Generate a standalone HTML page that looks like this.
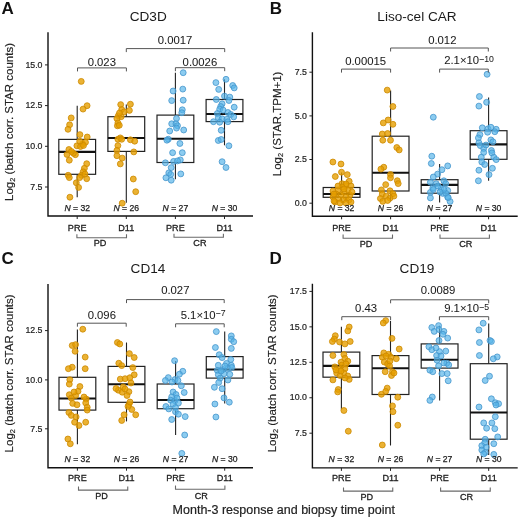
<!DOCTYPE html><html><head><meta charset="utf-8"><style>html,body{margin:0;padding:0;background:#fff;}svg{display:block;will-change:transform;}text{font-family:"Liberation Sans",sans-serif;}</style></head><body>
<svg width="520" height="519" viewBox="0 0 520 519">
<rect width="520" height="519" fill="#fff"/>
<line x1="77.2" y1="105.7" x2="77.2" y2="139.4" stroke="#222" stroke-width="1.1"/><line x1="77.2" y1="174.3" x2="77.2" y2="197.2" stroke="#222" stroke-width="1.1"/><rect x="58.8" y="139.4" width="36.8" height="34.9" fill="none" stroke="#222" stroke-width="1.2"/><line x1="58.8" y1="151.9" x2="95.6" y2="151.9" stroke="#111" stroke-width="2.1"/><line x1="126.3" y1="104.4" x2="126.3" y2="116.7" stroke="#222" stroke-width="1.1"/><line x1="126.3" y1="151.4" x2="126.3" y2="202.8" stroke="#222" stroke-width="1.1"/><rect x="107.9" y="116.7" width="36.8" height="34.7" fill="none" stroke="#222" stroke-width="1.2"/><line x1="107.9" y1="138.0" x2="144.7" y2="138.0" stroke="#111" stroke-width="2.1"/><line x1="175.4" y1="72.7" x2="175.4" y2="115.1" stroke="#222" stroke-width="1.1"/><line x1="175.4" y1="162.5" x2="175.4" y2="179.2" stroke="#222" stroke-width="1.1"/><rect x="157.0" y="115.1" width="36.8" height="47.4" fill="none" stroke="#222" stroke-width="1.2"/><line x1="157.0" y1="138.7" x2="193.8" y2="138.7" stroke="#111" stroke-width="2.1"/><line x1="224.5" y1="79.3" x2="224.5" y2="99.5" stroke="#222" stroke-width="1.1"/><line x1="224.5" y1="121.6" x2="224.5" y2="145.3" stroke="#222" stroke-width="1.1"/><rect x="206.1" y="99.5" width="36.8" height="22.09" fill="none" stroke="#222" stroke-width="1.2"/><line x1="206.1" y1="114.0" x2="242.9" y2="114.0" stroke="#111" stroke-width="2.1"/><circle cx="81.25" cy="81.4" r="2.95" fill="#E69F00" fill-opacity="0.8" stroke="#CC8A00" stroke-opacity="0.9" stroke-width="0.9"/><circle cx="87.1" cy="105.7" r="2.95" fill="#E69F00" fill-opacity="0.8" stroke="#CC8A00" stroke-opacity="0.9" stroke-width="0.9"/><circle cx="83.05" cy="109.1" r="2.95" fill="#E69F00" fill-opacity="0.8" stroke="#CC8A00" stroke-opacity="0.9" stroke-width="0.9"/><circle cx="71.2" cy="117.9" r="2.95" fill="#E69F00" fill-opacity="0.8" stroke="#CC8A00" stroke-opacity="0.9" stroke-width="0.9"/><circle cx="69.6" cy="124.8" r="2.95" fill="#E69F00" fill-opacity="0.8" stroke="#CC8A00" stroke-opacity="0.9" stroke-width="0.9"/><circle cx="68" cy="129.3" r="2.95" fill="#E69F00" fill-opacity="0.8" stroke="#CC8A00" stroke-opacity="0.9" stroke-width="0.9"/><circle cx="79.9" cy="134.6" r="2.95" fill="#E69F00" fill-opacity="0.8" stroke="#CC8A00" stroke-opacity="0.9" stroke-width="0.9"/><circle cx="87.2" cy="137" r="2.95" fill="#E69F00" fill-opacity="0.8" stroke="#CC8A00" stroke-opacity="0.9" stroke-width="0.9"/><circle cx="76.9" cy="145.8" r="2.95" fill="#E69F00" fill-opacity="0.8" stroke="#CC8A00" stroke-opacity="0.9" stroke-width="0.9"/><circle cx="82.6" cy="144" r="2.95" fill="#E69F00" fill-opacity="0.8" stroke="#CC8A00" stroke-opacity="0.9" stroke-width="0.9"/><circle cx="79.7" cy="141.2" r="2.95" fill="#E69F00" fill-opacity="0.8" stroke="#CC8A00" stroke-opacity="0.9" stroke-width="0.9"/><circle cx="85.5" cy="142.3" r="2.95" fill="#E69F00" fill-opacity="0.8" stroke="#CC8A00" stroke-opacity="0.9" stroke-width="0.9"/><circle cx="80.5" cy="146.5" r="2.95" fill="#E69F00" fill-opacity="0.8" stroke="#CC8A00" stroke-opacity="0.9" stroke-width="0.9"/><circle cx="68.9" cy="149.5" r="2.95" fill="#E69F00" fill-opacity="0.8" stroke="#CC8A00" stroke-opacity="0.9" stroke-width="0.9"/><circle cx="67" cy="154.5" r="2.95" fill="#E69F00" fill-opacity="0.8" stroke="#CC8A00" stroke-opacity="0.9" stroke-width="0.9"/><circle cx="69.3" cy="160.2" r="2.95" fill="#E69F00" fill-opacity="0.8" stroke="#CC8A00" stroke-opacity="0.9" stroke-width="0.9"/><circle cx="75.4" cy="154.7" r="2.95" fill="#E69F00" fill-opacity="0.8" stroke="#CC8A00" stroke-opacity="0.9" stroke-width="0.9"/><circle cx="73.4" cy="153.3" r="2.95" fill="#E69F00" fill-opacity="0.8" stroke="#CC8A00" stroke-opacity="0.9" stroke-width="0.9"/><circle cx="86.7" cy="163.7" r="2.95" fill="#E69F00" fill-opacity="0.8" stroke="#CC8A00" stroke-opacity="0.9" stroke-width="0.9"/><circle cx="84.4" cy="168.3" r="2.95" fill="#E69F00" fill-opacity="0.8" stroke="#CC8A00" stroke-opacity="0.9" stroke-width="0.9"/><circle cx="83.2" cy="171.8" r="2.95" fill="#E69F00" fill-opacity="0.8" stroke="#CC8A00" stroke-opacity="0.9" stroke-width="0.9"/><circle cx="81.5" cy="175.3" r="2.95" fill="#E69F00" fill-opacity="0.8" stroke="#CC8A00" stroke-opacity="0.9" stroke-width="0.9"/><circle cx="68.2" cy="175.3" r="2.95" fill="#E69F00" fill-opacity="0.8" stroke="#CC8A00" stroke-opacity="0.9" stroke-width="0.9"/><circle cx="69.3" cy="177.6" r="2.95" fill="#E69F00" fill-opacity="0.8" stroke="#CC8A00" stroke-opacity="0.9" stroke-width="0.9"/><circle cx="79.7" cy="177.6" r="2.95" fill="#E69F00" fill-opacity="0.8" stroke="#CC8A00" stroke-opacity="0.9" stroke-width="0.9"/><circle cx="86.7" cy="178.7" r="2.95" fill="#E69F00" fill-opacity="0.8" stroke="#CC8A00" stroke-opacity="0.9" stroke-width="0.9"/><circle cx="76.3" cy="182.8" r="2.95" fill="#E69F00" fill-opacity="0.8" stroke="#CC8A00" stroke-opacity="0.9" stroke-width="0.9"/><circle cx="78.6" cy="187.4" r="2.95" fill="#E69F00" fill-opacity="0.8" stroke="#CC8A00" stroke-opacity="0.9" stroke-width="0.9"/><circle cx="69.9" cy="197.2" r="2.95" fill="#E69F00" fill-opacity="0.8" stroke="#CC8A00" stroke-opacity="0.9" stroke-width="0.9"/><circle cx="71.5" cy="151.5" r="2.95" fill="#E69F00" fill-opacity="0.8" stroke="#CC8A00" stroke-opacity="0.9" stroke-width="0.9"/><circle cx="83.5" cy="145.5" r="2.95" fill="#E69F00" fill-opacity="0.8" stroke="#CC8A00" stroke-opacity="0.9" stroke-width="0.9"/><circle cx="85.0" cy="174.0" r="2.95" fill="#E69F00" fill-opacity="0.8" stroke="#CC8A00" stroke-opacity="0.9" stroke-width="0.9"/><circle cx="120.7" cy="104.6" r="2.95" fill="#E69F00" fill-opacity="0.8" stroke="#CC8A00" stroke-opacity="0.9" stroke-width="0.9"/><circle cx="130.4" cy="104.2" r="2.95" fill="#E69F00" fill-opacity="0.8" stroke="#CC8A00" stroke-opacity="0.9" stroke-width="0.9"/><circle cx="121.7" cy="109.5" r="2.95" fill="#E69F00" fill-opacity="0.8" stroke="#CC8A00" stroke-opacity="0.9" stroke-width="0.9"/><circle cx="129.4" cy="110.4" r="2.95" fill="#E69F00" fill-opacity="0.8" stroke="#CC8A00" stroke-opacity="0.9" stroke-width="0.9"/><circle cx="124.1" cy="111.9" r="2.95" fill="#E69F00" fill-opacity="0.8" stroke="#CC8A00" stroke-opacity="0.9" stroke-width="0.9"/><circle cx="118.3" cy="115.7" r="2.95" fill="#E69F00" fill-opacity="0.8" stroke="#CC8A00" stroke-opacity="0.9" stroke-width="0.9"/><circle cx="121.2" cy="116.7" r="2.95" fill="#E69F00" fill-opacity="0.8" stroke="#CC8A00" stroke-opacity="0.9" stroke-width="0.9"/><circle cx="116.9" cy="118.6" r="2.95" fill="#E69F00" fill-opacity="0.8" stroke="#CC8A00" stroke-opacity="0.9" stroke-width="0.9"/><circle cx="117.9" cy="122.9" r="2.95" fill="#E69F00" fill-opacity="0.8" stroke="#CC8A00" stroke-opacity="0.9" stroke-width="0.9"/><circle cx="117.4" cy="125.8" r="2.95" fill="#E69F00" fill-opacity="0.8" stroke="#CC8A00" stroke-opacity="0.9" stroke-width="0.9"/><circle cx="119.3" cy="125.3" r="2.95" fill="#E69F00" fill-opacity="0.8" stroke="#CC8A00" stroke-opacity="0.9" stroke-width="0.9"/><circle cx="120.3" cy="137.9" r="2.95" fill="#E69F00" fill-opacity="0.8" stroke="#CC8A00" stroke-opacity="0.9" stroke-width="0.9"/><circle cx="117.9" cy="139.3" r="2.95" fill="#E69F00" fill-opacity="0.8" stroke="#CC8A00" stroke-opacity="0.9" stroke-width="0.9"/><circle cx="130.4" cy="139.8" r="2.95" fill="#E69F00" fill-opacity="0.8" stroke="#CC8A00" stroke-opacity="0.9" stroke-width="0.9"/><circle cx="134.7" cy="141.2" r="2.95" fill="#E69F00" fill-opacity="0.8" stroke="#CC8A00" stroke-opacity="0.9" stroke-width="0.9"/><circle cx="121.7" cy="139.3" r="2.95" fill="#E69F00" fill-opacity="0.8" stroke="#CC8A00" stroke-opacity="0.9" stroke-width="0.9"/><circle cx="117.9" cy="145.6" r="2.95" fill="#E69F00" fill-opacity="0.8" stroke="#CC8A00" stroke-opacity="0.9" stroke-width="0.9"/><circle cx="116.9" cy="150.4" r="2.95" fill="#E69F00" fill-opacity="0.8" stroke="#CC8A00" stroke-opacity="0.9" stroke-width="0.9"/><circle cx="133.8" cy="151.9" r="2.95" fill="#E69F00" fill-opacity="0.8" stroke="#CC8A00" stroke-opacity="0.9" stroke-width="0.9"/><circle cx="116.9" cy="155.7" r="2.95" fill="#E69F00" fill-opacity="0.8" stroke="#CC8A00" stroke-opacity="0.9" stroke-width="0.9"/><circle cx="122.2" cy="158.1" r="2.95" fill="#E69F00" fill-opacity="0.8" stroke="#CC8A00" stroke-opacity="0.9" stroke-width="0.9"/><circle cx="120.3" cy="163.9" r="2.95" fill="#E69F00" fill-opacity="0.8" stroke="#CC8A00" stroke-opacity="0.9" stroke-width="0.9"/><circle cx="133.3" cy="179" r="2.95" fill="#E69F00" fill-opacity="0.8" stroke="#CC8A00" stroke-opacity="0.9" stroke-width="0.9"/><circle cx="135.7" cy="191.7" r="2.95" fill="#E69F00" fill-opacity="0.8" stroke="#CC8A00" stroke-opacity="0.9" stroke-width="0.9"/><circle cx="122.2" cy="203.2" r="2.95" fill="#E69F00" fill-opacity="0.8" stroke="#CC8A00" stroke-opacity="0.9" stroke-width="0.9"/><circle cx="119.5" cy="113.0" r="2.95" fill="#E69F00" fill-opacity="0.8" stroke="#CC8A00" stroke-opacity="0.9" stroke-width="0.9"/><circle cx="183.2" cy="72.7" r="2.95" fill="#56B4E9" fill-opacity="0.68" stroke="#4596CC" stroke-opacity="0.9" stroke-width="0.9"/><circle cx="173.1" cy="91" r="2.95" fill="#56B4E9" fill-opacity="0.68" stroke="#4596CC" stroke-opacity="0.9" stroke-width="0.9"/><circle cx="182.8" cy="89.1" r="2.95" fill="#56B4E9" fill-opacity="0.68" stroke="#4596CC" stroke-opacity="0.9" stroke-width="0.9"/><circle cx="171.7" cy="100.6" r="2.95" fill="#56B4E9" fill-opacity="0.68" stroke="#4596CC" stroke-opacity="0.9" stroke-width="0.9"/><circle cx="183.2" cy="100.2" r="2.95" fill="#56B4E9" fill-opacity="0.68" stroke="#4596CC" stroke-opacity="0.9" stroke-width="0.9"/><circle cx="182.3" cy="109.8" r="2.95" fill="#56B4E9" fill-opacity="0.68" stroke="#4596CC" stroke-opacity="0.9" stroke-width="0.9"/><circle cx="181.8" cy="112.7" r="2.95" fill="#56B4E9" fill-opacity="0.68" stroke="#4596CC" stroke-opacity="0.9" stroke-width="0.9"/><circle cx="176.5" cy="118.5" r="2.95" fill="#56B4E9" fill-opacity="0.68" stroke="#4596CC" stroke-opacity="0.9" stroke-width="0.9"/><circle cx="171.7" cy="123.8" r="2.95" fill="#56B4E9" fill-opacity="0.68" stroke="#4596CC" stroke-opacity="0.9" stroke-width="0.9"/><circle cx="176" cy="123.8" r="2.95" fill="#56B4E9" fill-opacity="0.68" stroke="#4596CC" stroke-opacity="0.9" stroke-width="0.9"/><circle cx="177.5" cy="125.7" r="2.95" fill="#56B4E9" fill-opacity="0.68" stroke="#4596CC" stroke-opacity="0.9" stroke-width="0.9"/><circle cx="176.5" cy="128.1" r="2.95" fill="#56B4E9" fill-opacity="0.68" stroke="#4596CC" stroke-opacity="0.9" stroke-width="0.9"/><circle cx="169.7" cy="131" r="2.95" fill="#56B4E9" fill-opacity="0.68" stroke="#4596CC" stroke-opacity="0.9" stroke-width="0.9"/><circle cx="183.7" cy="130" r="2.95" fill="#56B4E9" fill-opacity="0.68" stroke="#4596CC" stroke-opacity="0.9" stroke-width="0.9"/><circle cx="168.3" cy="139.2" r="2.95" fill="#56B4E9" fill-opacity="0.68" stroke="#4596CC" stroke-opacity="0.9" stroke-width="0.9"/><circle cx="166.9" cy="140.2" r="2.95" fill="#56B4E9" fill-opacity="0.68" stroke="#4596CC" stroke-opacity="0.9" stroke-width="0.9"/><circle cx="179.9" cy="143.5" r="2.95" fill="#56B4E9" fill-opacity="0.68" stroke="#4596CC" stroke-opacity="0.9" stroke-width="0.9"/><circle cx="172.6" cy="152.7" r="2.95" fill="#56B4E9" fill-opacity="0.68" stroke="#4596CC" stroke-opacity="0.9" stroke-width="0.9"/><circle cx="182.3" cy="152.7" r="2.95" fill="#56B4E9" fill-opacity="0.68" stroke="#4596CC" stroke-opacity="0.9" stroke-width="0.9"/><circle cx="165.4" cy="162.8" r="2.95" fill="#56B4E9" fill-opacity="0.68" stroke="#4596CC" stroke-opacity="0.9" stroke-width="0.9"/><circle cx="173.6" cy="161.4" r="2.95" fill="#56B4E9" fill-opacity="0.68" stroke="#4596CC" stroke-opacity="0.9" stroke-width="0.9"/><circle cx="180.3" cy="159.9" r="2.95" fill="#56B4E9" fill-opacity="0.68" stroke="#4596CC" stroke-opacity="0.9" stroke-width="0.9"/><circle cx="177.5" cy="160.9" r="2.95" fill="#56B4E9" fill-opacity="0.68" stroke="#4596CC" stroke-opacity="0.9" stroke-width="0.9"/><circle cx="171.2" cy="167.6" r="2.95" fill="#56B4E9" fill-opacity="0.68" stroke="#4596CC" stroke-opacity="0.9" stroke-width="0.9"/><circle cx="168.8" cy="172.9" r="2.95" fill="#56B4E9" fill-opacity="0.68" stroke="#4596CC" stroke-opacity="0.9" stroke-width="0.9"/><circle cx="170.7" cy="174.4" r="2.95" fill="#56B4E9" fill-opacity="0.68" stroke="#4596CC" stroke-opacity="0.9" stroke-width="0.9"/><circle cx="180.8" cy="173.9" r="2.95" fill="#56B4E9" fill-opacity="0.68" stroke="#4596CC" stroke-opacity="0.9" stroke-width="0.9"/><circle cx="165.9" cy="177.8" r="2.95" fill="#56B4E9" fill-opacity="0.68" stroke="#4596CC" stroke-opacity="0.9" stroke-width="0.9"/><circle cx="171.2" cy="180.2" r="2.95" fill="#56B4E9" fill-opacity="0.68" stroke="#4596CC" stroke-opacity="0.9" stroke-width="0.9"/><circle cx="226" cy="79.3" r="2.95" fill="#56B4E9" fill-opacity="0.68" stroke="#4596CC" stroke-opacity="0.9" stroke-width="0.9"/><circle cx="215.9" cy="82.6" r="2.95" fill="#56B4E9" fill-opacity="0.68" stroke="#4596CC" stroke-opacity="0.9" stroke-width="0.9"/><circle cx="232.7" cy="85.5" r="2.95" fill="#56B4E9" fill-opacity="0.68" stroke="#4596CC" stroke-opacity="0.9" stroke-width="0.9"/><circle cx="234.2" cy="87.9" r="2.95" fill="#56B4E9" fill-opacity="0.68" stroke="#4596CC" stroke-opacity="0.9" stroke-width="0.9"/><circle cx="218.7" cy="89.4" r="2.95" fill="#56B4E9" fill-opacity="0.68" stroke="#4596CC" stroke-opacity="0.9" stroke-width="0.9"/><circle cx="224.5" cy="96.1" r="2.95" fill="#56B4E9" fill-opacity="0.68" stroke="#4596CC" stroke-opacity="0.9" stroke-width="0.9"/><circle cx="229.8" cy="97.1" r="2.95" fill="#56B4E9" fill-opacity="0.68" stroke="#4596CC" stroke-opacity="0.9" stroke-width="0.9"/><circle cx="216.3" cy="99.5" r="2.95" fill="#56B4E9" fill-opacity="0.68" stroke="#4596CC" stroke-opacity="0.9" stroke-width="0.9"/><circle cx="228.9" cy="100.5" r="2.95" fill="#56B4E9" fill-opacity="0.68" stroke="#4596CC" stroke-opacity="0.9" stroke-width="0.9"/><circle cx="222.1" cy="103.8" r="2.95" fill="#56B4E9" fill-opacity="0.68" stroke="#4596CC" stroke-opacity="0.9" stroke-width="0.9"/><circle cx="234.2" cy="107.2" r="2.95" fill="#56B4E9" fill-opacity="0.68" stroke="#4596CC" stroke-opacity="0.9" stroke-width="0.9"/><circle cx="220.7" cy="106.5" r="2.95" fill="#56B4E9" fill-opacity="0.68" stroke="#4596CC" stroke-opacity="0.9" stroke-width="0.9"/><circle cx="219.7" cy="109.2" r="2.95" fill="#56B4E9" fill-opacity="0.68" stroke="#4596CC" stroke-opacity="0.9" stroke-width="0.9"/><circle cx="223.1" cy="110.1" r="2.95" fill="#56B4E9" fill-opacity="0.68" stroke="#4596CC" stroke-opacity="0.9" stroke-width="0.9"/><circle cx="217.3" cy="113.5" r="2.95" fill="#56B4E9" fill-opacity="0.68" stroke="#4596CC" stroke-opacity="0.9" stroke-width="0.9"/><circle cx="227.9" cy="112.5" r="2.95" fill="#56B4E9" fill-opacity="0.68" stroke="#4596CC" stroke-opacity="0.9" stroke-width="0.9"/><circle cx="230.8" cy="114.5" r="2.95" fill="#56B4E9" fill-opacity="0.68" stroke="#4596CC" stroke-opacity="0.9" stroke-width="0.9"/><circle cx="233.7" cy="116.9" r="2.95" fill="#56B4E9" fill-opacity="0.68" stroke="#4596CC" stroke-opacity="0.9" stroke-width="0.9"/><circle cx="218.3" cy="117.8" r="2.95" fill="#56B4E9" fill-opacity="0.68" stroke="#4596CC" stroke-opacity="0.9" stroke-width="0.9"/><circle cx="222.1" cy="118.8" r="2.95" fill="#56B4E9" fill-opacity="0.68" stroke="#4596CC" stroke-opacity="0.9" stroke-width="0.9"/><circle cx="226.9" cy="119.3" r="2.95" fill="#56B4E9" fill-opacity="0.68" stroke="#4596CC" stroke-opacity="0.9" stroke-width="0.9"/><circle cx="213.5" cy="121.7" r="2.95" fill="#56B4E9" fill-opacity="0.68" stroke="#4596CC" stroke-opacity="0.9" stroke-width="0.9"/><circle cx="219.7" cy="122.2" r="2.95" fill="#56B4E9" fill-opacity="0.68" stroke="#4596CC" stroke-opacity="0.9" stroke-width="0.9"/><circle cx="227.9" cy="121.7" r="2.95" fill="#56B4E9" fill-opacity="0.68" stroke="#4596CC" stroke-opacity="0.9" stroke-width="0.9"/><circle cx="221.2" cy="130.3" r="2.95" fill="#56B4E9" fill-opacity="0.68" stroke="#4596CC" stroke-opacity="0.9" stroke-width="0.9"/><circle cx="218.3" cy="140.5" r="2.95" fill="#56B4E9" fill-opacity="0.68" stroke="#4596CC" stroke-opacity="0.9" stroke-width="0.9"/><circle cx="221.2" cy="139.5" r="2.95" fill="#56B4E9" fill-opacity="0.68" stroke="#4596CC" stroke-opacity="0.9" stroke-width="0.9"/><circle cx="228.9" cy="145.8" r="2.95" fill="#56B4E9" fill-opacity="0.68" stroke="#4596CC" stroke-opacity="0.9" stroke-width="0.9"/><circle cx="222.1" cy="161.7" r="2.95" fill="#56B4E9" fill-opacity="0.68" stroke="#4596CC" stroke-opacity="0.9" stroke-width="0.9"/><circle cx="226.0" cy="167.5" r="2.95" fill="#56B4E9" fill-opacity="0.68" stroke="#4596CC" stroke-opacity="0.9" stroke-width="0.9"/>
<path d="M48.0 32.2 V216.0 H253.0" fill="none" stroke="#111" stroke-width="1.4"/>
<line x1="45.0" y1="64.9" x2="48.0" y2="64.9" stroke="#222" stroke-width="1"/>
<text x="42.5" y="67.6" font-size="8.8" text-anchor="end" fill="#222" stroke="#222" stroke-width="0.2">15.0</text>
<line x1="45.0" y1="105.6" x2="48.0" y2="105.6" stroke="#222" stroke-width="1"/>
<text x="42.5" y="108.3" font-size="8.8" text-anchor="end" fill="#222" stroke="#222" stroke-width="0.2">12.5</text>
<line x1="45.0" y1="146.3" x2="48.0" y2="146.3" stroke="#222" stroke-width="1"/>
<text x="42.5" y="149.0" font-size="8.8" text-anchor="end" fill="#222" stroke="#222" stroke-width="0.2">10.0</text>
<line x1="45.0" y1="187.0" x2="48.0" y2="187.0" stroke="#222" stroke-width="1"/>
<text x="42.5" y="189.7" font-size="8.8" text-anchor="end" fill="#222" stroke="#222" stroke-width="0.2">7.5</text>
<line x1="77.2" y1="216.0" x2="77.2" y2="219.0" stroke="#222" stroke-width="1"/>
<text x="77.2" y="231.0" font-size="9.1" text-anchor="middle" fill="#222222" stroke="#222222" stroke-width="0.3">PRE</text>
<text x="77.2" y="211.0" font-size="8.6" text-anchor="middle" fill="#222222" stroke="#222222" stroke-width="0.25"><tspan font-style="italic">N</tspan> = 32</text>
<line x1="126.3" y1="216.0" x2="126.3" y2="219.0" stroke="#222" stroke-width="1"/>
<text x="126.3" y="231.0" font-size="9.1" text-anchor="middle" fill="#222222" stroke="#222222" stroke-width="0.3">D11</text>
<text x="126.3" y="211.0" font-size="8.6" text-anchor="middle" fill="#222222" stroke="#222222" stroke-width="0.25"><tspan font-style="italic">N</tspan> = 26</text>
<line x1="175.4" y1="216.0" x2="175.4" y2="219.0" stroke="#222" stroke-width="1"/>
<text x="175.4" y="231.0" font-size="9.1" text-anchor="middle" fill="#222222" stroke="#222222" stroke-width="0.3">PRE</text>
<text x="175.4" y="211.0" font-size="8.6" text-anchor="middle" fill="#222222" stroke="#222222" stroke-width="0.25"><tspan font-style="italic">N</tspan> = 27</text>
<line x1="224.5" y1="216.0" x2="224.5" y2="219.0" stroke="#222" stroke-width="1"/>
<text x="224.5" y="231.0" font-size="9.1" text-anchor="middle" fill="#222222" stroke="#222222" stroke-width="0.3">D11</text>
<text x="224.5" y="211.0" font-size="8.6" text-anchor="middle" fill="#222222" stroke="#222222" stroke-width="0.25"><tspan font-style="italic">N</tspan> = 30</text>
<path d="M76.9 234.2 V237.8 H126.5 V234.2" fill="none" stroke="#6a6a6a" stroke-width="1.1"/>
<text x="100.0" y="246.4" font-size="9.1" text-anchor="middle" fill="#222222" stroke="#222222" stroke-width="0.3">PD</text>
<path d="M174.0 233.7 V237.3 H223.4 V233.7" fill="none" stroke="#6a6a6a" stroke-width="1.1"/>
<text x="199.9" y="246.4" font-size="9.1" text-anchor="middle" fill="#222222" stroke="#222222" stroke-width="0.3">CR</text>
<text x="148.2" y="21.3" font-size="13.6" text-anchor="middle" fill="#1a1a1a">CD3D</text>
<text x="1.49" y="13.9" font-size="17" font-weight="bold" fill="#111">A</text>
<text transform="translate(12.9 122.0) rotate(-90)" x="0" y="0" font-size="11.5" text-anchor="middle" fill="#222" stroke="#222" stroke-width="0.15">Log<tspan font-size="7.5" dy="2.5">2</tspan><tspan dy="-2.5"> (batch corr. STAR counts)</tspan></text>
<path d="M77.5 71.4 V67.9 H126.4 V71.4" fill="none" stroke="#555" stroke-width="1.0"/>
<text x="101.8" y="65.7" font-size="11.3" text-anchor="middle" fill="#1a1a1a" stroke="#1a1a1a" stroke-width="0.05">0.023</text>
<path d="M126.3 52.1 V48.6 H224.7 V52.1" fill="none" stroke="#555" stroke-width="1.0"/>
<text x="175.0" y="44.4" font-size="11.3" text-anchor="middle" fill="#1a1a1a" stroke="#1a1a1a" stroke-width="0.05">0.0017</text>
<path d="M175.4 71.2 V67.7 H224.7 V71.2" fill="none" stroke="#555" stroke-width="1.0"/>
<text x="199.9" y="65.5" font-size="11.3" text-anchor="middle" fill="#1a1a1a" stroke="#1a1a1a" stroke-width="0.05">0.0026</text>
<line x1="341.6" y1="172.6" x2="341.6" y2="187.5" stroke="#222" stroke-width="1.1"/><line x1="341.6" y1="197.3" x2="341.6" y2="203.0" stroke="#222" stroke-width="1.1"/><rect x="323.2" y="187.5" width="36.8" height="9.8" fill="none" stroke="#222" stroke-width="1.2"/><line x1="323.2" y1="194.0" x2="360.0" y2="194.0" stroke="#111" stroke-width="2.1"/><line x1="390.6" y1="90.4" x2="390.6" y2="136.2" stroke="#222" stroke-width="1.1"/><line x1="390.6" y1="191.0" x2="390.6" y2="201.5" stroke="#222" stroke-width="1.1"/><rect x="372.2" y="136.2" width="36.8" height="54.8" fill="none" stroke="#222" stroke-width="1.2"/><line x1="372.2" y1="172.7" x2="409.0" y2="172.7" stroke="#111" stroke-width="2.1"/><line x1="439.6" y1="164.0" x2="439.6" y2="179.7" stroke="#222" stroke-width="1.1"/><line x1="439.6" y1="193.2" x2="439.6" y2="202.5" stroke="#222" stroke-width="1.1"/><rect x="421.2" y="179.7" width="36.8" height="13.5" fill="none" stroke="#222" stroke-width="1.2"/><line x1="421.2" y1="184.9" x2="458.0" y2="184.9" stroke="#111" stroke-width="2.1"/><line x1="488.6" y1="97.5" x2="488.6" y2="130.7" stroke="#222" stroke-width="1.1"/><line x1="488.6" y1="159.3" x2="488.6" y2="180.8" stroke="#222" stroke-width="1.1"/><rect x="470.2" y="130.7" width="36.8" height="28.6" fill="none" stroke="#222" stroke-width="1.2"/><line x1="470.2" y1="144.4" x2="507.0" y2="144.4" stroke="#111" stroke-width="2.1"/><circle cx="332.9" cy="162" r="2.95" fill="#E69F00" fill-opacity="0.8" stroke="#CC8A00" stroke-opacity="0.9" stroke-width="0.9"/><circle cx="341" cy="164" r="2.95" fill="#E69F00" fill-opacity="0.8" stroke="#CC8A00" stroke-opacity="0.9" stroke-width="0.9"/><circle cx="341.5" cy="172.2" r="2.95" fill="#E69F00" fill-opacity="0.8" stroke="#CC8A00" stroke-opacity="0.9" stroke-width="0.9"/><circle cx="347.3" cy="174.6" r="2.95" fill="#E69F00" fill-opacity="0.8" stroke="#CC8A00" stroke-opacity="0.9" stroke-width="0.9"/><circle cx="335.3" cy="176.5" r="2.95" fill="#E69F00" fill-opacity="0.8" stroke="#CC8A00" stroke-opacity="0.9" stroke-width="0.9"/><circle cx="349.2" cy="181.3" r="2.95" fill="#E69F00" fill-opacity="0.8" stroke="#CC8A00" stroke-opacity="0.9" stroke-width="0.9"/><circle cx="342" cy="183.7" r="2.95" fill="#E69F00" fill-opacity="0.8" stroke="#CC8A00" stroke-opacity="0.9" stroke-width="0.9"/><circle cx="345.9" cy="185.6" r="2.95" fill="#E69F00" fill-opacity="0.8" stroke="#CC8A00" stroke-opacity="0.9" stroke-width="0.9"/><circle cx="346" cy="184" r="2.95" fill="#E69F00" fill-opacity="0.8" stroke="#CC8A00" stroke-opacity="0.9" stroke-width="0.9"/><circle cx="351" cy="186" r="2.95" fill="#E69F00" fill-opacity="0.8" stroke="#CC8A00" stroke-opacity="0.9" stroke-width="0.9"/><circle cx="342" cy="187" r="2.95" fill="#E69F00" fill-opacity="0.8" stroke="#CC8A00" stroke-opacity="0.9" stroke-width="0.9"/><circle cx="338" cy="190" r="2.95" fill="#E69F00" fill-opacity="0.8" stroke="#CC8A00" stroke-opacity="0.9" stroke-width="0.9"/><circle cx="333" cy="191" r="2.95" fill="#E69F00" fill-opacity="0.8" stroke="#CC8A00" stroke-opacity="0.9" stroke-width="0.9"/><circle cx="348" cy="190" r="2.95" fill="#E69F00" fill-opacity="0.8" stroke="#CC8A00" stroke-opacity="0.9" stroke-width="0.9"/><circle cx="344" cy="192" r="2.95" fill="#E69F00" fill-opacity="0.8" stroke="#CC8A00" stroke-opacity="0.9" stroke-width="0.9"/><circle cx="336" cy="194" r="2.95" fill="#E69F00" fill-opacity="0.8" stroke="#CC8A00" stroke-opacity="0.9" stroke-width="0.9"/><circle cx="341" cy="195" r="2.95" fill="#E69F00" fill-opacity="0.8" stroke="#CC8A00" stroke-opacity="0.9" stroke-width="0.9"/><circle cx="350" cy="195" r="2.95" fill="#E69F00" fill-opacity="0.8" stroke="#CC8A00" stroke-opacity="0.9" stroke-width="0.9"/><circle cx="333" cy="197" r="2.95" fill="#E69F00" fill-opacity="0.8" stroke="#CC8A00" stroke-opacity="0.9" stroke-width="0.9"/><circle cx="346" cy="197" r="2.95" fill="#E69F00" fill-opacity="0.8" stroke="#CC8A00" stroke-opacity="0.9" stroke-width="0.9"/><circle cx="338" cy="199" r="2.95" fill="#E69F00" fill-opacity="0.8" stroke="#CC8A00" stroke-opacity="0.9" stroke-width="0.9"/><circle cx="343" cy="200" r="2.95" fill="#E69F00" fill-opacity="0.8" stroke="#CC8A00" stroke-opacity="0.9" stroke-width="0.9"/><circle cx="349" cy="200" r="2.95" fill="#E69F00" fill-opacity="0.8" stroke="#CC8A00" stroke-opacity="0.9" stroke-width="0.9"/><circle cx="335" cy="202" r="2.95" fill="#E69F00" fill-opacity="0.8" stroke="#CC8A00" stroke-opacity="0.9" stroke-width="0.9"/><circle cx="340" cy="203" r="2.95" fill="#E69F00" fill-opacity="0.8" stroke="#CC8A00" stroke-opacity="0.9" stroke-width="0.9"/><circle cx="346" cy="203" r="2.95" fill="#E69F00" fill-opacity="0.8" stroke="#CC8A00" stroke-opacity="0.9" stroke-width="0.9"/><circle cx="351" cy="202" r="2.95" fill="#E69F00" fill-opacity="0.8" stroke="#CC8A00" stroke-opacity="0.9" stroke-width="0.9"/><circle cx="334" cy="201" r="2.95" fill="#E69F00" fill-opacity="0.8" stroke="#CC8A00" stroke-opacity="0.9" stroke-width="0.9"/><circle cx="338" cy="186" r="2.95" fill="#E69F00" fill-opacity="0.8" stroke="#CC8A00" stroke-opacity="0.9" stroke-width="0.9"/><circle cx="352" cy="192" r="2.95" fill="#E69F00" fill-opacity="0.8" stroke="#CC8A00" stroke-opacity="0.9" stroke-width="0.9"/><circle cx="344" cy="189" r="2.95" fill="#E69F00" fill-opacity="0.8" stroke="#CC8A00" stroke-opacity="0.9" stroke-width="0.9"/><circle cx="334" cy="194" r="2.95" fill="#E69F00" fill-opacity="0.8" stroke="#CC8A00" stroke-opacity="0.9" stroke-width="0.9"/><circle cx="387.2" cy="90.1" r="2.95" fill="#E69F00" fill-opacity="0.8" stroke="#CC8A00" stroke-opacity="0.9" stroke-width="0.9"/><circle cx="392.9" cy="106.5" r="2.95" fill="#E69F00" fill-opacity="0.8" stroke="#CC8A00" stroke-opacity="0.9" stroke-width="0.9"/><circle cx="388.1" cy="120" r="2.95" fill="#E69F00" fill-opacity="0.8" stroke="#CC8A00" stroke-opacity="0.9" stroke-width="0.9"/><circle cx="383.3" cy="122.9" r="2.95" fill="#E69F00" fill-opacity="0.8" stroke="#CC8A00" stroke-opacity="0.9" stroke-width="0.9"/><circle cx="392.9" cy="124.3" r="2.95" fill="#E69F00" fill-opacity="0.8" stroke="#CC8A00" stroke-opacity="0.9" stroke-width="0.9"/><circle cx="382.3" cy="134" r="2.95" fill="#E69F00" fill-opacity="0.8" stroke="#CC8A00" stroke-opacity="0.9" stroke-width="0.9"/><circle cx="387.6" cy="133.5" r="2.95" fill="#E69F00" fill-opacity="0.8" stroke="#CC8A00" stroke-opacity="0.9" stroke-width="0.9"/><circle cx="382.8" cy="140.2" r="2.95" fill="#E69F00" fill-opacity="0.8" stroke="#CC8A00" stroke-opacity="0.9" stroke-width="0.9"/><circle cx="390.5" cy="140.2" r="2.95" fill="#E69F00" fill-opacity="0.8" stroke="#CC8A00" stroke-opacity="0.9" stroke-width="0.9"/><circle cx="396.8" cy="147.5" r="2.95" fill="#E69F00" fill-opacity="0.8" stroke="#CC8A00" stroke-opacity="0.9" stroke-width="0.9"/><circle cx="399.2" cy="149.9" r="2.95" fill="#E69F00" fill-opacity="0.8" stroke="#CC8A00" stroke-opacity="0.9" stroke-width="0.9"/><circle cx="383.8" cy="167.2" r="2.95" fill="#E69F00" fill-opacity="0.8" stroke="#CC8A00" stroke-opacity="0.9" stroke-width="0.9"/><circle cx="380.9" cy="169.1" r="2.95" fill="#E69F00" fill-opacity="0.8" stroke="#CC8A00" stroke-opacity="0.9" stroke-width="0.9"/><circle cx="390.5" cy="174.5" r="2.95" fill="#E69F00" fill-opacity="0.8" stroke="#CC8A00" stroke-opacity="0.9" stroke-width="0.9"/><circle cx="390.5" cy="177.8" r="2.95" fill="#E69F00" fill-opacity="0.8" stroke="#CC8A00" stroke-opacity="0.9" stroke-width="0.9"/><circle cx="397.3" cy="180.7" r="2.95" fill="#E69F00" fill-opacity="0.8" stroke="#CC8A00" stroke-opacity="0.9" stroke-width="0.9"/><circle cx="398.2" cy="183.6" r="2.95" fill="#E69F00" fill-opacity="0.8" stroke="#CC8A00" stroke-opacity="0.9" stroke-width="0.9"/><circle cx="385.7" cy="184.6" r="2.95" fill="#E69F00" fill-opacity="0.8" stroke="#CC8A00" stroke-opacity="0.9" stroke-width="0.9"/><circle cx="381.4" cy="189.9" r="2.95" fill="#E69F00" fill-opacity="0.8" stroke="#CC8A00" stroke-opacity="0.9" stroke-width="0.9"/><circle cx="390" cy="190.8" r="2.95" fill="#E69F00" fill-opacity="0.8" stroke="#CC8A00" stroke-opacity="0.9" stroke-width="0.9"/><circle cx="392.9" cy="193.7" r="2.95" fill="#E69F00" fill-opacity="0.8" stroke="#CC8A00" stroke-opacity="0.9" stroke-width="0.9"/><circle cx="382.3" cy="194.2" r="2.95" fill="#E69F00" fill-opacity="0.8" stroke="#CC8A00" stroke-opacity="0.9" stroke-width="0.9"/><circle cx="386.2" cy="196.1" r="2.95" fill="#E69F00" fill-opacity="0.8" stroke="#CC8A00" stroke-opacity="0.9" stroke-width="0.9"/><circle cx="393.9" cy="196.1" r="2.95" fill="#E69F00" fill-opacity="0.8" stroke="#CC8A00" stroke-opacity="0.9" stroke-width="0.9"/><circle cx="380.4" cy="198.5" r="2.95" fill="#E69F00" fill-opacity="0.8" stroke="#CC8A00" stroke-opacity="0.9" stroke-width="0.9"/><circle cx="390" cy="198.1" r="2.95" fill="#E69F00" fill-opacity="0.8" stroke="#CC8A00" stroke-opacity="0.9" stroke-width="0.9"/><circle cx="382.8" cy="201.4" r="2.95" fill="#E69F00" fill-opacity="0.8" stroke="#CC8A00" stroke-opacity="0.9" stroke-width="0.9"/><circle cx="387.6" cy="200.5" r="2.95" fill="#E69F00" fill-opacity="0.8" stroke="#CC8A00" stroke-opacity="0.9" stroke-width="0.9"/><circle cx="433.3" cy="117.2" r="2.95" fill="#56B4E9" fill-opacity="0.68" stroke="#4596CC" stroke-opacity="0.9" stroke-width="0.9"/><circle cx="431.8" cy="156.2" r="2.95" fill="#56B4E9" fill-opacity="0.68" stroke="#4596CC" stroke-opacity="0.9" stroke-width="0.9"/><circle cx="431.3" cy="163.5" r="2.95" fill="#56B4E9" fill-opacity="0.68" stroke="#4596CC" stroke-opacity="0.9" stroke-width="0.9"/><circle cx="447.7" cy="165.9" r="2.95" fill="#56B4E9" fill-opacity="0.68" stroke="#4596CC" stroke-opacity="0.9" stroke-width="0.9"/><circle cx="441.9" cy="169.7" r="2.95" fill="#56B4E9" fill-opacity="0.68" stroke="#4596CC" stroke-opacity="0.9" stroke-width="0.9"/><circle cx="437.6" cy="174.1" r="2.95" fill="#56B4E9" fill-opacity="0.68" stroke="#4596CC" stroke-opacity="0.9" stroke-width="0.9"/><circle cx="433.3" cy="177" r="2.95" fill="#56B4E9" fill-opacity="0.68" stroke="#4596CC" stroke-opacity="0.9" stroke-width="0.9"/><circle cx="443.9" cy="180.8" r="2.95" fill="#56B4E9" fill-opacity="0.68" stroke="#4596CC" stroke-opacity="0.9" stroke-width="0.9"/><circle cx="430.4" cy="182.3" r="2.95" fill="#56B4E9" fill-opacity="0.68" stroke="#4596CC" stroke-opacity="0.9" stroke-width="0.9"/><circle cx="436.2" cy="183.7" r="2.95" fill="#56B4E9" fill-opacity="0.68" stroke="#4596CC" stroke-opacity="0.9" stroke-width="0.9"/><circle cx="445.8" cy="183.7" r="2.95" fill="#56B4E9" fill-opacity="0.68" stroke="#4596CC" stroke-opacity="0.9" stroke-width="0.9"/><circle cx="432.8" cy="188.1" r="2.95" fill="#56B4E9" fill-opacity="0.68" stroke="#4596CC" stroke-opacity="0.9" stroke-width="0.9"/><circle cx="441" cy="188.5" r="2.95" fill="#56B4E9" fill-opacity="0.68" stroke="#4596CC" stroke-opacity="0.9" stroke-width="0.9"/><circle cx="447.7" cy="190.5" r="2.95" fill="#56B4E9" fill-opacity="0.68" stroke="#4596CC" stroke-opacity="0.9" stroke-width="0.9"/><circle cx="430.4" cy="192.4" r="2.95" fill="#56B4E9" fill-opacity="0.68" stroke="#4596CC" stroke-opacity="0.9" stroke-width="0.9"/><circle cx="442.9" cy="193.4" r="2.95" fill="#56B4E9" fill-opacity="0.68" stroke="#4596CC" stroke-opacity="0.9" stroke-width="0.9"/><circle cx="430.4" cy="197.9" r="2.95" fill="#56B4E9" fill-opacity="0.68" stroke="#4596CC" stroke-opacity="0.9" stroke-width="0.9"/><circle cx="447.7" cy="197.2" r="2.95" fill="#56B4E9" fill-opacity="0.68" stroke="#4596CC" stroke-opacity="0.9" stroke-width="0.9"/><circle cx="450.1" cy="201.5" r="2.95" fill="#56B4E9" fill-opacity="0.68" stroke="#4596CC" stroke-opacity="0.9" stroke-width="0.9"/><circle cx="445.8" cy="193.3" r="2.95" fill="#56B4E9" fill-opacity="0.68" stroke="#4596CC" stroke-opacity="0.9" stroke-width="0.9"/><circle cx="448.2" cy="197.6" r="2.95" fill="#56B4E9" fill-opacity="0.68" stroke="#4596CC" stroke-opacity="0.9" stroke-width="0.9"/><circle cx="443.9" cy="189.5" r="2.95" fill="#56B4E9" fill-opacity="0.68" stroke="#4596CC" stroke-opacity="0.9" stroke-width="0.9"/><circle cx="433.3" cy="189.5" r="2.95" fill="#56B4E9" fill-opacity="0.68" stroke="#4596CC" stroke-opacity="0.9" stroke-width="0.9"/><circle cx="438" cy="186" r="2.95" fill="#56B4E9" fill-opacity="0.68" stroke="#4596CC" stroke-opacity="0.9" stroke-width="0.9"/><circle cx="440" cy="192" r="2.95" fill="#56B4E9" fill-opacity="0.68" stroke="#4596CC" stroke-opacity="0.9" stroke-width="0.9"/><circle cx="487.1" cy="74.3" r="2.95" fill="#56B4E9" fill-opacity="0.68" stroke="#4596CC" stroke-opacity="0.9" stroke-width="0.9"/><circle cx="479.4" cy="96.5" r="2.95" fill="#56B4E9" fill-opacity="0.68" stroke="#4596CC" stroke-opacity="0.9" stroke-width="0.9"/><circle cx="486.6" cy="102.3" r="2.95" fill="#56B4E9" fill-opacity="0.68" stroke="#4596CC" stroke-opacity="0.9" stroke-width="0.9"/><circle cx="478.9" cy="106.1" r="2.95" fill="#56B4E9" fill-opacity="0.68" stroke="#4596CC" stroke-opacity="0.9" stroke-width="0.9"/><circle cx="482.3" cy="127.8" r="2.95" fill="#56B4E9" fill-opacity="0.68" stroke="#4596CC" stroke-opacity="0.9" stroke-width="0.9"/><circle cx="488" cy="128.8" r="2.95" fill="#56B4E9" fill-opacity="0.68" stroke="#4596CC" stroke-opacity="0.9" stroke-width="0.9"/><circle cx="490.9" cy="127.3" r="2.95" fill="#56B4E9" fill-opacity="0.68" stroke="#4596CC" stroke-opacity="0.9" stroke-width="0.9"/><circle cx="496.2" cy="129.3" r="2.95" fill="#56B4E9" fill-opacity="0.68" stroke="#4596CC" stroke-opacity="0.9" stroke-width="0.9"/><circle cx="487.6" cy="132.2" r="2.95" fill="#56B4E9" fill-opacity="0.68" stroke="#4596CC" stroke-opacity="0.9" stroke-width="0.9"/><circle cx="494.8" cy="131.7" r="2.95" fill="#56B4E9" fill-opacity="0.68" stroke="#4596CC" stroke-opacity="0.9" stroke-width="0.9"/><circle cx="479.9" cy="134.6" r="2.95" fill="#56B4E9" fill-opacity="0.68" stroke="#4596CC" stroke-opacity="0.9" stroke-width="0.9"/><circle cx="478.4" cy="137.9" r="2.95" fill="#56B4E9" fill-opacity="0.68" stroke="#4596CC" stroke-opacity="0.9" stroke-width="0.9"/><circle cx="490.9" cy="139.9" r="2.95" fill="#56B4E9" fill-opacity="0.68" stroke="#4596CC" stroke-opacity="0.9" stroke-width="0.9"/><circle cx="492.9" cy="141.8" r="2.95" fill="#56B4E9" fill-opacity="0.68" stroke="#4596CC" stroke-opacity="0.9" stroke-width="0.9"/><circle cx="478.9" cy="142.8" r="2.95" fill="#56B4E9" fill-opacity="0.68" stroke="#4596CC" stroke-opacity="0.9" stroke-width="0.9"/><circle cx="480.3" cy="145.6" r="2.95" fill="#56B4E9" fill-opacity="0.68" stroke="#4596CC" stroke-opacity="0.9" stroke-width="0.9"/><circle cx="483.7" cy="148.5" r="2.95" fill="#56B4E9" fill-opacity="0.68" stroke="#4596CC" stroke-opacity="0.9" stroke-width="0.9"/><circle cx="491.4" cy="150.5" r="2.95" fill="#56B4E9" fill-opacity="0.68" stroke="#4596CC" stroke-opacity="0.9" stroke-width="0.9"/><circle cx="483.7" cy="152.4" r="2.95" fill="#56B4E9" fill-opacity="0.68" stroke="#4596CC" stroke-opacity="0.9" stroke-width="0.9"/><circle cx="491.9" cy="152.9" r="2.95" fill="#56B4E9" fill-opacity="0.68" stroke="#4596CC" stroke-opacity="0.9" stroke-width="0.9"/><circle cx="481.3" cy="157.2" r="2.95" fill="#56B4E9" fill-opacity="0.68" stroke="#4596CC" stroke-opacity="0.9" stroke-width="0.9"/><circle cx="493.8" cy="157.2" r="2.95" fill="#56B4E9" fill-opacity="0.68" stroke="#4596CC" stroke-opacity="0.9" stroke-width="0.9"/><circle cx="496.2" cy="159.6" r="2.95" fill="#56B4E9" fill-opacity="0.68" stroke="#4596CC" stroke-opacity="0.9" stroke-width="0.9"/><circle cx="481.8" cy="162" r="2.95" fill="#56B4E9" fill-opacity="0.68" stroke="#4596CC" stroke-opacity="0.9" stroke-width="0.9"/><circle cx="484.7" cy="164.5" r="2.95" fill="#56B4E9" fill-opacity="0.68" stroke="#4596CC" stroke-opacity="0.9" stroke-width="0.9"/><circle cx="492.4" cy="168.3" r="2.95" fill="#56B4E9" fill-opacity="0.68" stroke="#4596CC" stroke-opacity="0.9" stroke-width="0.9"/><circle cx="478.9" cy="170.2" r="2.95" fill="#56B4E9" fill-opacity="0.68" stroke="#4596CC" stroke-opacity="0.9" stroke-width="0.9"/><circle cx="489" cy="174.6" r="2.95" fill="#56B4E9" fill-opacity="0.68" stroke="#4596CC" stroke-opacity="0.9" stroke-width="0.9"/><circle cx="478.4" cy="180.8" r="2.95" fill="#56B4E9" fill-opacity="0.68" stroke="#4596CC" stroke-opacity="0.9" stroke-width="0.9"/><circle cx="486" cy="145" r="2.95" fill="#56B4E9" fill-opacity="0.68" stroke="#4596CC" stroke-opacity="0.9" stroke-width="0.9"/>
<path d="M312.4 32.3 V216.3 H517.7" fill="none" stroke="#111" stroke-width="1.4"/>
<line x1="309.4" y1="72.2" x2="312.4" y2="72.2" stroke="#222" stroke-width="1"/>
<text x="306.9" y="74.9" font-size="8.8" text-anchor="end" fill="#222" stroke="#222" stroke-width="0.2">7.5</text>
<line x1="309.4" y1="115.9" x2="312.4" y2="115.9" stroke="#222" stroke-width="1"/>
<text x="306.9" y="118.6" font-size="8.8" text-anchor="end" fill="#222" stroke="#222" stroke-width="0.2">5.0</text>
<line x1="309.4" y1="159.5" x2="312.4" y2="159.5" stroke="#222" stroke-width="1"/>
<text x="306.9" y="162.2" font-size="8.8" text-anchor="end" fill="#222" stroke="#222" stroke-width="0.2">2.5</text>
<line x1="309.4" y1="203.2" x2="312.4" y2="203.2" stroke="#222" stroke-width="1"/>
<text x="306.9" y="205.89" font-size="8.8" text-anchor="end" fill="#222" stroke="#222" stroke-width="0.2">0.0</text>
<line x1="341.6" y1="216.3" x2="341.6" y2="219.3" stroke="#222" stroke-width="1"/>
<text x="341.6" y="231.0" font-size="9.1" text-anchor="middle" fill="#222222" stroke="#222222" stroke-width="0.3">PRE</text>
<text x="341.6" y="211.0" font-size="8.6" text-anchor="middle" fill="#222222" stroke="#222222" stroke-width="0.25"><tspan font-style="italic">N</tspan> = 32</text>
<line x1="390.6" y1="216.3" x2="390.6" y2="219.3" stroke="#222" stroke-width="1"/>
<text x="390.6" y="231.0" font-size="9.1" text-anchor="middle" fill="#222222" stroke="#222222" stroke-width="0.3">D11</text>
<text x="390.6" y="211.0" font-size="8.6" text-anchor="middle" fill="#222222" stroke="#222222" stroke-width="0.25"><tspan font-style="italic">N</tspan> = 26</text>
<line x1="439.6" y1="216.3" x2="439.6" y2="219.3" stroke="#222" stroke-width="1"/>
<text x="439.6" y="231.0" font-size="9.1" text-anchor="middle" fill="#222222" stroke="#222222" stroke-width="0.3">PRE</text>
<text x="439.6" y="211.0" font-size="8.6" text-anchor="middle" fill="#222222" stroke="#222222" stroke-width="0.25"><tspan font-style="italic">N</tspan> = 27</text>
<line x1="488.6" y1="216.3" x2="488.6" y2="219.3" stroke="#222" stroke-width="1"/>
<text x="488.6" y="231.0" font-size="9.1" text-anchor="middle" fill="#222222" stroke="#222222" stroke-width="0.3">D11</text>
<text x="488.6" y="211.0" font-size="8.6" text-anchor="middle" fill="#222222" stroke="#222222" stroke-width="0.25"><tspan font-style="italic">N</tspan> = 30</text>
<path d="M343.1 234.6 V238.2 H392.5 V234.6" fill="none" stroke="#6a6a6a" stroke-width="1.1"/>
<text x="366.1" y="246.6" font-size="9.1" text-anchor="middle" fill="#222222" stroke="#222222" stroke-width="0.3">PD</text>
<path d="M440.0 234.6 V238.2 H489.4 V234.6" fill="none" stroke="#6a6a6a" stroke-width="1.1"/>
<text x="465.8" y="246.6" font-size="9.1" text-anchor="middle" fill="#222222" stroke="#222222" stroke-width="0.3">CR</text>
<text x="417.0" y="21.2" font-size="13.6" text-anchor="middle" fill="#1a1a1a">Liso-cel CAR</text>
<text x="269.8" y="13.7" font-size="17" font-weight="bold" fill="#111">B</text>
<text transform="translate(280.7 123.9) rotate(-90)" x="0" y="0" font-size="11.5" text-anchor="middle" fill="#222" stroke="#222" stroke-width="0.15">Log<tspan font-size="7.5" dy="2.5">2</tspan><tspan dy="-2.5"> (STAR.TPM+1)</tspan></text>
<path d="M341.5 72.6 V69.1 H390.6 V72.6" fill="none" stroke="#555" stroke-width="1.0"/>
<text x="365.6" y="65.0" font-size="11.3" text-anchor="middle" fill="#1a1a1a" stroke="#1a1a1a" stroke-width="0.05">0.00015</text>
<path d="M390.6 51.5 V48.0 H488.3 V51.5" fill="none" stroke="#555" stroke-width="1.0"/>
<text x="442.3" y="44.3" font-size="11.3" text-anchor="middle" fill="#1a1a1a" stroke="#1a1a1a" stroke-width="0.05">0.012</text>
<path d="M439.6 72.6 V69.1 H488.3 V72.6" fill="none" stroke="#555" stroke-width="1.0"/>
<text x="444.2" y="64.3" font-size="11.3" text-anchor="start" fill="#1a1a1a" stroke="#1a1a1a" stroke-width="0.05">2.1×10<tspan font-size="8.7" dy="-2.8">−10</tspan></text>
<line x1="77.4" y1="329.5" x2="77.4" y2="377.3" stroke="#222" stroke-width="1.1"/><line x1="77.4" y1="410.1" x2="77.4" y2="444.3" stroke="#222" stroke-width="1.1"/><rect x="59" y="377.3" width="36.8" height="32.8" fill="none" stroke="#222" stroke-width="1.2"/><line x1="59" y1="398.5" x2="95.8" y2="398.5" stroke="#111" stroke-width="2.1"/><line x1="126.5" y1="342.5" x2="126.5" y2="366.4" stroke="#222" stroke-width="1.1"/><line x1="126.5" y1="402.3" x2="126.5" y2="421.4" stroke="#222" stroke-width="1.1"/><rect x="108.1" y="366.4" width="36.8" height="35.9" fill="none" stroke="#222" stroke-width="1.2"/><line x1="108.1" y1="384.3" x2="144.9" y2="384.3" stroke="#111" stroke-width="2.1"/><line x1="175.6" y1="361.0" x2="175.6" y2="384.0" stroke="#222" stroke-width="1.1"/><line x1="175.6" y1="408.7" x2="175.6" y2="435.0" stroke="#222" stroke-width="1.1"/><rect x="157.2" y="384.0" width="36.8" height="24.69" fill="none" stroke="#222" stroke-width="1.2"/><line x1="157.2" y1="400.0" x2="194.0" y2="400.0" stroke="#111" stroke-width="2.1"/><line x1="224.7" y1="331.6" x2="224.7" y2="356.6" stroke="#222" stroke-width="1.1"/><line x1="224.7" y1="378.1" x2="224.7" y2="403.5" stroke="#222" stroke-width="1.1"/><rect x="206.29" y="356.6" width="36.8" height="21.5" fill="none" stroke="#222" stroke-width="1.2"/><line x1="206.29" y1="369.5" x2="243.1" y2="369.5" stroke="#111" stroke-width="2.1"/><circle cx="82.8" cy="329.2" r="2.95" fill="#E69F00" fill-opacity="0.8" stroke="#CC8A00" stroke-opacity="0.9" stroke-width="0.9"/><circle cx="72.2" cy="345.5" r="2.95" fill="#E69F00" fill-opacity="0.8" stroke="#CC8A00" stroke-opacity="0.9" stroke-width="0.9"/><circle cx="75.6" cy="344.6" r="2.95" fill="#E69F00" fill-opacity="0.8" stroke="#CC8A00" stroke-opacity="0.9" stroke-width="0.9"/><circle cx="75.1" cy="351.3" r="2.95" fill="#E69F00" fill-opacity="0.8" stroke="#CC8A00" stroke-opacity="0.9" stroke-width="0.9"/><circle cx="85.2" cy="357.1" r="2.95" fill="#E69F00" fill-opacity="0.8" stroke="#CC8A00" stroke-opacity="0.9" stroke-width="0.9"/><circle cx="72.2" cy="367.2" r="2.95" fill="#E69F00" fill-opacity="0.8" stroke="#CC8A00" stroke-opacity="0.9" stroke-width="0.9"/><circle cx="68.4" cy="368.7" r="2.95" fill="#E69F00" fill-opacity="0.8" stroke="#CC8A00" stroke-opacity="0.9" stroke-width="0.9"/><circle cx="85.2" cy="368.7" r="2.95" fill="#E69F00" fill-opacity="0.8" stroke="#CC8A00" stroke-opacity="0.9" stroke-width="0.9"/><circle cx="69.8" cy="379.7" r="2.95" fill="#E69F00" fill-opacity="0.8" stroke="#CC8A00" stroke-opacity="0.9" stroke-width="0.9"/><circle cx="69.3" cy="384.1" r="2.95" fill="#E69F00" fill-opacity="0.8" stroke="#CC8A00" stroke-opacity="0.9" stroke-width="0.9"/><circle cx="79.9" cy="386.5" r="2.95" fill="#E69F00" fill-opacity="0.8" stroke="#CC8A00" stroke-opacity="0.9" stroke-width="0.9"/><circle cx="78" cy="391.3" r="2.95" fill="#E69F00" fill-opacity="0.8" stroke="#CC8A00" stroke-opacity="0.9" stroke-width="0.9"/><circle cx="69.3" cy="394.7" r="2.95" fill="#E69F00" fill-opacity="0.8" stroke="#CC8A00" stroke-opacity="0.9" stroke-width="0.9"/><circle cx="75.6" cy="395.6" r="2.95" fill="#E69F00" fill-opacity="0.8" stroke="#CC8A00" stroke-opacity="0.9" stroke-width="0.9"/><circle cx="71.3" cy="398.1" r="2.95" fill="#E69F00" fill-opacity="0.8" stroke="#CC8A00" stroke-opacity="0.9" stroke-width="0.9"/><circle cx="86.2" cy="399" r="2.95" fill="#E69F00" fill-opacity="0.8" stroke="#CC8A00" stroke-opacity="0.9" stroke-width="0.9"/><circle cx="72.7" cy="403.4" r="2.95" fill="#E69F00" fill-opacity="0.8" stroke="#CC8A00" stroke-opacity="0.9" stroke-width="0.9"/><circle cx="77" cy="404.8" r="2.95" fill="#E69F00" fill-opacity="0.8" stroke="#CC8A00" stroke-opacity="0.9" stroke-width="0.9"/><circle cx="85.7" cy="402.9" r="2.95" fill="#E69F00" fill-opacity="0.8" stroke="#CC8A00" stroke-opacity="0.9" stroke-width="0.9"/><circle cx="87.2" cy="407.2" r="2.95" fill="#E69F00" fill-opacity="0.8" stroke="#CC8A00" stroke-opacity="0.9" stroke-width="0.9"/><circle cx="87.2" cy="410.1" r="2.95" fill="#E69F00" fill-opacity="0.8" stroke="#CC8A00" stroke-opacity="0.9" stroke-width="0.9"/><circle cx="68.9" cy="412.5" r="2.95" fill="#E69F00" fill-opacity="0.8" stroke="#CC8A00" stroke-opacity="0.9" stroke-width="0.9"/><circle cx="71.3" cy="415.4" r="2.95" fill="#E69F00" fill-opacity="0.8" stroke="#CC8A00" stroke-opacity="0.9" stroke-width="0.9"/><circle cx="76.1" cy="416.9" r="2.95" fill="#E69F00" fill-opacity="0.8" stroke="#CC8A00" stroke-opacity="0.9" stroke-width="0.9"/><circle cx="74.6" cy="422.2" r="2.95" fill="#E69F00" fill-opacity="0.8" stroke="#CC8A00" stroke-opacity="0.9" stroke-width="0.9"/><circle cx="79" cy="425.5" r="2.95" fill="#E69F00" fill-opacity="0.8" stroke="#CC8A00" stroke-opacity="0.9" stroke-width="0.9"/><circle cx="85.7" cy="422.2" r="2.95" fill="#E69F00" fill-opacity="0.8" stroke="#CC8A00" stroke-opacity="0.9" stroke-width="0.9"/><circle cx="67.9" cy="439" r="2.95" fill="#E69F00" fill-opacity="0.8" stroke="#CC8A00" stroke-opacity="0.9" stroke-width="0.9"/><circle cx="70.3" cy="443.8" r="2.95" fill="#E69F00" fill-opacity="0.8" stroke="#CC8A00" stroke-opacity="0.9" stroke-width="0.9"/><circle cx="84" cy="397" r="2.95" fill="#E69F00" fill-opacity="0.8" stroke="#CC8A00" stroke-opacity="0.9" stroke-width="0.9"/><circle cx="74" cy="392" r="2.95" fill="#E69F00" fill-opacity="0.8" stroke="#CC8A00" stroke-opacity="0.9" stroke-width="0.9"/><circle cx="117.4" cy="342.5" r="2.95" fill="#E69F00" fill-opacity="0.8" stroke="#CC8A00" stroke-opacity="0.9" stroke-width="0.9"/><circle cx="119.8" cy="344" r="2.95" fill="#E69F00" fill-opacity="0.8" stroke="#CC8A00" stroke-opacity="0.9" stroke-width="0.9"/><circle cx="129.4" cy="353.6" r="2.95" fill="#E69F00" fill-opacity="0.8" stroke="#CC8A00" stroke-opacity="0.9" stroke-width="0.9"/><circle cx="134.2" cy="357.5" r="2.95" fill="#E69F00" fill-opacity="0.8" stroke="#CC8A00" stroke-opacity="0.9" stroke-width="0.9"/><circle cx="118.8" cy="363.2" r="2.95" fill="#E69F00" fill-opacity="0.8" stroke="#CC8A00" stroke-opacity="0.9" stroke-width="0.9"/><circle cx="121.7" cy="365.6" r="2.95" fill="#E69F00" fill-opacity="0.8" stroke="#CC8A00" stroke-opacity="0.9" stroke-width="0.9"/><circle cx="132.8" cy="367.6" r="2.95" fill="#E69F00" fill-opacity="0.8" stroke="#CC8A00" stroke-opacity="0.9" stroke-width="0.9"/><circle cx="134.2" cy="374.8" r="2.95" fill="#E69F00" fill-opacity="0.8" stroke="#CC8A00" stroke-opacity="0.9" stroke-width="0.9"/><circle cx="120.3" cy="379.1" r="2.95" fill="#E69F00" fill-opacity="0.8" stroke="#CC8A00" stroke-opacity="0.9" stroke-width="0.9"/><circle cx="125.1" cy="378.7" r="2.95" fill="#E69F00" fill-opacity="0.8" stroke="#CC8A00" stroke-opacity="0.9" stroke-width="0.9"/><circle cx="129.9" cy="377.7" r="2.95" fill="#E69F00" fill-opacity="0.8" stroke="#CC8A00" stroke-opacity="0.9" stroke-width="0.9"/><circle cx="123.2" cy="386.9" r="2.95" fill="#E69F00" fill-opacity="0.8" stroke="#CC8A00" stroke-opacity="0.9" stroke-width="0.9"/><circle cx="118.3" cy="390.2" r="2.95" fill="#E69F00" fill-opacity="0.8" stroke="#CC8A00" stroke-opacity="0.9" stroke-width="0.9"/><circle cx="122.2" cy="392.2" r="2.95" fill="#E69F00" fill-opacity="0.8" stroke="#CC8A00" stroke-opacity="0.9" stroke-width="0.9"/><circle cx="128.9" cy="391.7" r="2.95" fill="#E69F00" fill-opacity="0.8" stroke="#CC8A00" stroke-opacity="0.9" stroke-width="0.9"/><circle cx="127" cy="395.5" r="2.95" fill="#E69F00" fill-opacity="0.8" stroke="#CC8A00" stroke-opacity="0.9" stroke-width="0.9"/><circle cx="128.9" cy="404.7" r="2.95" fill="#E69F00" fill-opacity="0.8" stroke="#CC8A00" stroke-opacity="0.9" stroke-width="0.9"/><circle cx="131.8" cy="409.5" r="2.95" fill="#E69F00" fill-opacity="0.8" stroke="#CC8A00" stroke-opacity="0.9" stroke-width="0.9"/><circle cx="135.7" cy="414.8" r="2.95" fill="#E69F00" fill-opacity="0.8" stroke="#CC8A00" stroke-opacity="0.9" stroke-width="0.9"/><circle cx="124.1" cy="414.8" r="2.95" fill="#E69F00" fill-opacity="0.8" stroke="#CC8A00" stroke-opacity="0.9" stroke-width="0.9"/><circle cx="121.7" cy="420.5" r="2.95" fill="#E69F00" fill-opacity="0.8" stroke="#CC8A00" stroke-opacity="0.9" stroke-width="0.9"/><circle cx="128" cy="406.4" r="2.95" fill="#E69F00" fill-opacity="0.8" stroke="#CC8A00" stroke-opacity="0.9" stroke-width="0.9"/><circle cx="116" cy="388.5" r="2.95" fill="#E69F00" fill-opacity="0.8" stroke="#CC8A00" stroke-opacity="0.9" stroke-width="0.9"/><circle cx="131" cy="383" r="2.95" fill="#E69F00" fill-opacity="0.8" stroke="#CC8A00" stroke-opacity="0.9" stroke-width="0.9"/><circle cx="125" cy="389" r="2.95" fill="#E69F00" fill-opacity="0.8" stroke="#CC8A00" stroke-opacity="0.9" stroke-width="0.9"/><circle cx="130" cy="402" r="2.95" fill="#E69F00" fill-opacity="0.8" stroke="#CC8A00" stroke-opacity="0.9" stroke-width="0.9"/><circle cx="174.6" cy="360.7" r="2.95" fill="#56B4E9" fill-opacity="0.68" stroke="#4596CC" stroke-opacity="0.9" stroke-width="0.9"/><circle cx="182.8" cy="371.3" r="2.95" fill="#56B4E9" fill-opacity="0.68" stroke="#4596CC" stroke-opacity="0.9" stroke-width="0.9"/><circle cx="179.4" cy="374.2" r="2.95" fill="#56B4E9" fill-opacity="0.68" stroke="#4596CC" stroke-opacity="0.9" stroke-width="0.9"/><circle cx="168.3" cy="377.6" r="2.95" fill="#56B4E9" fill-opacity="0.68" stroke="#4596CC" stroke-opacity="0.9" stroke-width="0.9"/><circle cx="165.4" cy="380.5" r="2.95" fill="#56B4E9" fill-opacity="0.68" stroke="#4596CC" stroke-opacity="0.9" stroke-width="0.9"/><circle cx="175" cy="379.5" r="2.95" fill="#56B4E9" fill-opacity="0.68" stroke="#4596CC" stroke-opacity="0.9" stroke-width="0.9"/><circle cx="177.9" cy="380.5" r="2.95" fill="#56B4E9" fill-opacity="0.68" stroke="#4596CC" stroke-opacity="0.9" stroke-width="0.9"/><circle cx="181.3" cy="385.8" r="2.95" fill="#56B4E9" fill-opacity="0.68" stroke="#4596CC" stroke-opacity="0.9" stroke-width="0.9"/><circle cx="184.2" cy="392.5" r="2.95" fill="#56B4E9" fill-opacity="0.68" stroke="#4596CC" stroke-opacity="0.9" stroke-width="0.9"/><circle cx="173.1" cy="392" r="2.95" fill="#56B4E9" fill-opacity="0.68" stroke="#4596CC" stroke-opacity="0.9" stroke-width="0.9"/><circle cx="176" cy="394.5" r="2.95" fill="#56B4E9" fill-opacity="0.68" stroke="#4596CC" stroke-opacity="0.9" stroke-width="0.9"/><circle cx="171.7" cy="396.9" r="2.95" fill="#56B4E9" fill-opacity="0.68" stroke="#4596CC" stroke-opacity="0.9" stroke-width="0.9"/><circle cx="170.7" cy="400.2" r="2.95" fill="#56B4E9" fill-opacity="0.68" stroke="#4596CC" stroke-opacity="0.9" stroke-width="0.9"/><circle cx="175" cy="400.7" r="2.95" fill="#56B4E9" fill-opacity="0.68" stroke="#4596CC" stroke-opacity="0.9" stroke-width="0.9"/><circle cx="178.4" cy="403.1" r="2.95" fill="#56B4E9" fill-opacity="0.68" stroke="#4596CC" stroke-opacity="0.9" stroke-width="0.9"/><circle cx="173.1" cy="404.1" r="2.95" fill="#56B4E9" fill-opacity="0.68" stroke="#4596CC" stroke-opacity="0.9" stroke-width="0.9"/><circle cx="165.9" cy="406.5" r="2.95" fill="#56B4E9" fill-opacity="0.68" stroke="#4596CC" stroke-opacity="0.9" stroke-width="0.9"/><circle cx="168.8" cy="408.9" r="2.95" fill="#56B4E9" fill-opacity="0.68" stroke="#4596CC" stroke-opacity="0.9" stroke-width="0.9"/><circle cx="175.5" cy="407.5" r="2.95" fill="#56B4E9" fill-opacity="0.68" stroke="#4596CC" stroke-opacity="0.9" stroke-width="0.9"/><circle cx="175.5" cy="411.8" r="2.95" fill="#56B4E9" fill-opacity="0.68" stroke="#4596CC" stroke-opacity="0.9" stroke-width="0.9"/><circle cx="178.4" cy="414.2" r="2.95" fill="#56B4E9" fill-opacity="0.68" stroke="#4596CC" stroke-opacity="0.9" stroke-width="0.9"/><circle cx="185.2" cy="416.6" r="2.95" fill="#56B4E9" fill-opacity="0.68" stroke="#4596CC" stroke-opacity="0.9" stroke-width="0.9"/><circle cx="171.7" cy="419.5" r="2.95" fill="#56B4E9" fill-opacity="0.68" stroke="#4596CC" stroke-opacity="0.9" stroke-width="0.9"/><circle cx="184.7" cy="435" r="2.95" fill="#56B4E9" fill-opacity="0.68" stroke="#4596CC" stroke-opacity="0.9" stroke-width="0.9"/><circle cx="181.8" cy="453.4" r="2.95" fill="#56B4E9" fill-opacity="0.68" stroke="#4596CC" stroke-opacity="0.9" stroke-width="0.9"/><circle cx="172" cy="382" r="2.95" fill="#56B4E9" fill-opacity="0.68" stroke="#4596CC" stroke-opacity="0.9" stroke-width="0.9"/><circle cx="177" cy="398" r="2.95" fill="#56B4E9" fill-opacity="0.68" stroke="#4596CC" stroke-opacity="0.9" stroke-width="0.9"/><circle cx="216.3" cy="331.6" r="2.95" fill="#56B4E9" fill-opacity="0.68" stroke="#4596CC" stroke-opacity="0.9" stroke-width="0.9"/><circle cx="231.3" cy="335.9" r="2.95" fill="#56B4E9" fill-opacity="0.68" stroke="#4596CC" stroke-opacity="0.9" stroke-width="0.9"/><circle cx="231.3" cy="339.3" r="2.95" fill="#56B4E9" fill-opacity="0.68" stroke="#4596CC" stroke-opacity="0.9" stroke-width="0.9"/><circle cx="233.7" cy="341.7" r="2.95" fill="#56B4E9" fill-opacity="0.68" stroke="#4596CC" stroke-opacity="0.9" stroke-width="0.9"/><circle cx="215.4" cy="347.5" r="2.95" fill="#56B4E9" fill-opacity="0.68" stroke="#4596CC" stroke-opacity="0.9" stroke-width="0.9"/><circle cx="231.3" cy="348.4" r="2.95" fill="#56B4E9" fill-opacity="0.68" stroke="#4596CC" stroke-opacity="0.9" stroke-width="0.9"/><circle cx="219.2" cy="354.7" r="2.95" fill="#56B4E9" fill-opacity="0.68" stroke="#4596CC" stroke-opacity="0.9" stroke-width="0.9"/><circle cx="222.1" cy="357.6" r="2.95" fill="#56B4E9" fill-opacity="0.68" stroke="#4596CC" stroke-opacity="0.9" stroke-width="0.9"/><circle cx="230.8" cy="359.5" r="2.95" fill="#56B4E9" fill-opacity="0.68" stroke="#4596CC" stroke-opacity="0.9" stroke-width="0.9"/><circle cx="218.3" cy="365.3" r="2.95" fill="#56B4E9" fill-opacity="0.68" stroke="#4596CC" stroke-opacity="0.9" stroke-width="0.9"/><circle cx="226.5" cy="363.4" r="2.95" fill="#56B4E9" fill-opacity="0.68" stroke="#4596CC" stroke-opacity="0.9" stroke-width="0.9"/><circle cx="231.3" cy="365.3" r="2.95" fill="#56B4E9" fill-opacity="0.68" stroke="#4596CC" stroke-opacity="0.9" stroke-width="0.9"/><circle cx="217.3" cy="370.4" r="2.95" fill="#56B4E9" fill-opacity="0.68" stroke="#4596CC" stroke-opacity="0.9" stroke-width="0.9"/><circle cx="223.1" cy="369.5" r="2.95" fill="#56B4E9" fill-opacity="0.68" stroke="#4596CC" stroke-opacity="0.9" stroke-width="0.9"/><circle cx="227.9" cy="368.5" r="2.95" fill="#56B4E9" fill-opacity="0.68" stroke="#4596CC" stroke-opacity="0.9" stroke-width="0.9"/><circle cx="231.8" cy="367.5" r="2.95" fill="#56B4E9" fill-opacity="0.68" stroke="#4596CC" stroke-opacity="0.9" stroke-width="0.9"/><circle cx="218.3" cy="374.7" r="2.95" fill="#56B4E9" fill-opacity="0.68" stroke="#4596CC" stroke-opacity="0.9" stroke-width="0.9"/><circle cx="224" cy="373.8" r="2.95" fill="#56B4E9" fill-opacity="0.68" stroke="#4596CC" stroke-opacity="0.9" stroke-width="0.9"/><circle cx="229.8" cy="374.3" r="2.95" fill="#56B4E9" fill-opacity="0.68" stroke="#4596CC" stroke-opacity="0.9" stroke-width="0.9"/><circle cx="220.2" cy="378.1" r="2.95" fill="#56B4E9" fill-opacity="0.68" stroke="#4596CC" stroke-opacity="0.9" stroke-width="0.9"/><circle cx="227.9" cy="380" r="2.95" fill="#56B4E9" fill-opacity="0.68" stroke="#4596CC" stroke-opacity="0.9" stroke-width="0.9"/><circle cx="218.7" cy="382.5" r="2.95" fill="#56B4E9" fill-opacity="0.68" stroke="#4596CC" stroke-opacity="0.9" stroke-width="0.9"/><circle cx="214.4" cy="387.3" r="2.95" fill="#56B4E9" fill-opacity="0.68" stroke="#4596CC" stroke-opacity="0.9" stroke-width="0.9"/><circle cx="222.1" cy="388.7" r="2.95" fill="#56B4E9" fill-opacity="0.68" stroke="#4596CC" stroke-opacity="0.9" stroke-width="0.9"/><circle cx="224" cy="397.9" r="2.95" fill="#56B4E9" fill-opacity="0.68" stroke="#4596CC" stroke-opacity="0.9" stroke-width="0.9"/><circle cx="214.9" cy="404" r="2.95" fill="#56B4E9" fill-opacity="0.68" stroke="#4596CC" stroke-opacity="0.9" stroke-width="0.9"/><circle cx="229.3" cy="402.2" r="2.95" fill="#56B4E9" fill-opacity="0.68" stroke="#4596CC" stroke-opacity="0.9" stroke-width="0.9"/><circle cx="215.9" cy="417" r="2.95" fill="#56B4E9" fill-opacity="0.68" stroke="#4596CC" stroke-opacity="0.9" stroke-width="0.9"/><circle cx="225" cy="366" r="2.95" fill="#56B4E9" fill-opacity="0.68" stroke="#4596CC" stroke-opacity="0.9" stroke-width="0.9"/><circle cx="221" cy="371" r="2.95" fill="#56B4E9" fill-opacity="0.68" stroke="#4596CC" stroke-opacity="0.9" stroke-width="0.9"/>
<path d="M48.0 283.9 V467.7 H253.0" fill="none" stroke="#111" stroke-width="1.4"/>
<line x1="45.0" y1="330.6" x2="48.0" y2="330.6" stroke="#222" stroke-width="1"/>
<text x="42.5" y="333.3" font-size="8.8" text-anchor="end" fill="#222" stroke="#222" stroke-width="0.2">12.5</text>
<line x1="45.0" y1="379.9" x2="48.0" y2="379.9" stroke="#222" stroke-width="1"/>
<text x="42.5" y="382.59" font-size="8.8" text-anchor="end" fill="#222" stroke="#222" stroke-width="0.2">10.0</text>
<line x1="45.0" y1="428.8" x2="48.0" y2="428.8" stroke="#222" stroke-width="1"/>
<text x="42.5" y="431.5" font-size="8.8" text-anchor="end" fill="#222" stroke="#222" stroke-width="0.2">7.5</text>
<line x1="77.4" y1="467.7" x2="77.4" y2="470.7" stroke="#222" stroke-width="1"/>
<text x="77.4" y="481.2" font-size="9.1" text-anchor="middle" fill="#222222" stroke="#222222" stroke-width="0.3">PRE</text>
<text x="77.4" y="462.4" font-size="8.6" text-anchor="middle" fill="#222222" stroke="#222222" stroke-width="0.25"><tspan font-style="italic">N</tspan> = 32</text>
<line x1="126.5" y1="467.7" x2="126.5" y2="470.7" stroke="#222" stroke-width="1"/>
<text x="126.5" y="481.2" font-size="9.1" text-anchor="middle" fill="#222222" stroke="#222222" stroke-width="0.3">D11</text>
<text x="126.5" y="462.4" font-size="8.6" text-anchor="middle" fill="#222222" stroke="#222222" stroke-width="0.25"><tspan font-style="italic">N</tspan> = 26</text>
<line x1="175.6" y1="467.7" x2="175.6" y2="470.7" stroke="#222" stroke-width="1"/>
<text x="175.6" y="481.2" font-size="9.1" text-anchor="middle" fill="#222222" stroke="#222222" stroke-width="0.3">PRE</text>
<text x="175.6" y="462.4" font-size="8.6" text-anchor="middle" fill="#222222" stroke="#222222" stroke-width="0.25"><tspan font-style="italic">N</tspan> = 27</text>
<line x1="224.7" y1="467.7" x2="224.7" y2="470.7" stroke="#222" stroke-width="1"/>
<text x="224.7" y="481.2" font-size="9.1" text-anchor="middle" fill="#222222" stroke="#222222" stroke-width="0.3">D11</text>
<text x="224.7" y="462.4" font-size="8.6" text-anchor="middle" fill="#222222" stroke="#222222" stroke-width="0.25"><tspan font-style="italic">N</tspan> = 30</text>
<path d="M78.5 486.5 V490.1 H127.75 V486.5" fill="none" stroke="#6a6a6a" stroke-width="1.1"/>
<text x="101.6" y="498.8" font-size="9.1" text-anchor="middle" fill="#222222" stroke="#222222" stroke-width="0.3">PD</text>
<path d="M175.5 485.59 V489.2 H224.9 V485.59" fill="none" stroke="#6a6a6a" stroke-width="1.1"/>
<text x="201.3" y="498.8" font-size="9.1" text-anchor="middle" fill="#222222" stroke="#222222" stroke-width="0.3">CR</text>
<text x="148.0" y="273.4" font-size="13.6" text-anchor="middle" fill="#1a1a1a">CD14</text>
<text x="1.49" y="263.9" font-size="17" font-weight="bold" fill="#111">C</text>
<text transform="translate(12.9 373.4) rotate(-90)" x="0" y="0" font-size="11.5" text-anchor="middle" fill="#222" stroke="#222" stroke-width="0.15">Log<tspan font-size="7.5" dy="2.5">2</tspan><tspan dy="-2.5"> (batch corr. STAR counts)</tspan></text>
<path d="M77.4 326.7 V323.2 H126.2 V326.7" fill="none" stroke="#555" stroke-width="1.0"/>
<text x="101.8" y="319.3" font-size="11.3" text-anchor="middle" fill="#1a1a1a" stroke="#1a1a1a" stroke-width="0.05">0.096</text>
<path d="M126.5 303.1 V299.6 H224.2 V303.1" fill="none" stroke="#555" stroke-width="1.0"/>
<text x="175.3" y="293.8" font-size="11.3" text-anchor="middle" fill="#1a1a1a" stroke="#1a1a1a" stroke-width="0.05">0.027</text>
<path d="M175.6 327.3 V323.8 H224.2 V327.3" fill="none" stroke="#555" stroke-width="1.0"/>
<text x="180.7" y="318.9" font-size="11.3" text-anchor="start" fill="#1a1a1a" stroke="#1a1a1a" stroke-width="0.05">5.1×10<tspan font-size="8.7" dy="-2.8">−7</tspan></text>
<line x1="341.4" y1="326.8" x2="341.4" y2="352.1" stroke="#222" stroke-width="1.1"/><line x1="341.4" y1="377.2" x2="341.4" y2="409.6" stroke="#222" stroke-width="1.1"/><rect x="323.0" y="352.1" width="36.8" height="25.09" fill="none" stroke="#222" stroke-width="1.2"/><line x1="323.0" y1="365.9" x2="359.79" y2="365.9" stroke="#111" stroke-width="2.1"/><line x1="390.5" y1="321.0" x2="390.5" y2="355.6" stroke="#222" stroke-width="1.1"/><line x1="390.5" y1="394.5" x2="390.5" y2="445.5" stroke="#222" stroke-width="1.1"/><rect x="372.1" y="355.6" width="36.8" height="38.89" fill="none" stroke="#222" stroke-width="1.2"/><line x1="372.1" y1="368.3" x2="408.9" y2="368.3" stroke="#111" stroke-width="2.1"/><line x1="439.6" y1="325.8" x2="439.6" y2="343.9" stroke="#222" stroke-width="1.1"/><line x1="439.6" y1="368.1" x2="439.6" y2="400.4" stroke="#222" stroke-width="1.1"/><rect x="421.2" y="343.9" width="36.8" height="24.2" fill="none" stroke="#222" stroke-width="1.2"/><line x1="421.2" y1="359.7" x2="458.0" y2="359.7" stroke="#111" stroke-width="2.1"/><line x1="488.7" y1="323.5" x2="488.7" y2="363.7" stroke="#222" stroke-width="1.1"/><line x1="488.7" y1="439.2" x2="488.7" y2="455.0" stroke="#222" stroke-width="1.1"/><rect x="470.3" y="363.7" width="36.8" height="75.5" fill="none" stroke="#222" stroke-width="1.2"/><line x1="470.3" y1="412.5" x2="507.09" y2="412.5" stroke="#111" stroke-width="2.1"/><circle cx="349.2" cy="327" r="2.95" fill="#E69F00" fill-opacity="0.8" stroke="#CC8A00" stroke-opacity="0.9" stroke-width="0.9"/><circle cx="347.8" cy="330.9" r="2.95" fill="#E69F00" fill-opacity="0.8" stroke="#CC8A00" stroke-opacity="0.9" stroke-width="0.9"/><circle cx="335.3" cy="335.7" r="2.95" fill="#E69F00" fill-opacity="0.8" stroke="#CC8A00" stroke-opacity="0.9" stroke-width="0.9"/><circle cx="334.3" cy="339.1" r="2.95" fill="#E69F00" fill-opacity="0.8" stroke="#CC8A00" stroke-opacity="0.9" stroke-width="0.9"/><circle cx="332.4" cy="341.5" r="2.95" fill="#E69F00" fill-opacity="0.8" stroke="#CC8A00" stroke-opacity="0.9" stroke-width="0.9"/><circle cx="339.6" cy="342" r="2.95" fill="#E69F00" fill-opacity="0.8" stroke="#CC8A00" stroke-opacity="0.9" stroke-width="0.9"/><circle cx="344.9" cy="343.9" r="2.95" fill="#E69F00" fill-opacity="0.8" stroke="#CC8A00" stroke-opacity="0.9" stroke-width="0.9"/><circle cx="350.2" cy="341.5" r="2.95" fill="#E69F00" fill-opacity="0.8" stroke="#CC8A00" stroke-opacity="0.9" stroke-width="0.9"/><circle cx="332.9" cy="355.5" r="2.95" fill="#E69F00" fill-opacity="0.8" stroke="#CC8A00" stroke-opacity="0.9" stroke-width="0.9"/><circle cx="343.9" cy="354.5" r="2.95" fill="#E69F00" fill-opacity="0.8" stroke="#CC8A00" stroke-opacity="0.9" stroke-width="0.9"/><circle cx="344.9" cy="358.4" r="2.95" fill="#E69F00" fill-opacity="0.8" stroke="#CC8A00" stroke-opacity="0.9" stroke-width="0.9"/><circle cx="341" cy="362.2" r="2.95" fill="#E69F00" fill-opacity="0.8" stroke="#CC8A00" stroke-opacity="0.9" stroke-width="0.9"/><circle cx="347.8" cy="361.2" r="2.95" fill="#E69F00" fill-opacity="0.8" stroke="#CC8A00" stroke-opacity="0.9" stroke-width="0.9"/><circle cx="334.8" cy="366.9" r="2.95" fill="#E69F00" fill-opacity="0.8" stroke="#CC8A00" stroke-opacity="0.9" stroke-width="0.9"/><circle cx="339.6" cy="369.3" r="2.95" fill="#E69F00" fill-opacity="0.8" stroke="#CC8A00" stroke-opacity="0.9" stroke-width="0.9"/><circle cx="344.9" cy="368.8" r="2.95" fill="#E69F00" fill-opacity="0.8" stroke="#CC8A00" stroke-opacity="0.9" stroke-width="0.9"/><circle cx="336.7" cy="373.1" r="2.95" fill="#E69F00" fill-opacity="0.8" stroke="#CC8A00" stroke-opacity="0.9" stroke-width="0.9"/><circle cx="343.9" cy="373.1" r="2.95" fill="#E69F00" fill-opacity="0.8" stroke="#CC8A00" stroke-opacity="0.9" stroke-width="0.9"/><circle cx="340.1" cy="375.5" r="2.95" fill="#E69F00" fill-opacity="0.8" stroke="#CC8A00" stroke-opacity="0.9" stroke-width="0.9"/><circle cx="347.8" cy="376" r="2.95" fill="#E69F00" fill-opacity="0.8" stroke="#CC8A00" stroke-opacity="0.9" stroke-width="0.9"/><circle cx="332.9" cy="379.9" r="2.95" fill="#E69F00" fill-opacity="0.8" stroke="#CC8A00" stroke-opacity="0.9" stroke-width="0.9"/><circle cx="349.2" cy="379.4" r="2.95" fill="#E69F00" fill-opacity="0.8" stroke="#CC8A00" stroke-opacity="0.9" stroke-width="0.9"/><circle cx="338.2" cy="389.5" r="2.95" fill="#E69F00" fill-opacity="0.8" stroke="#CC8A00" stroke-opacity="0.9" stroke-width="0.9"/><circle cx="337.7" cy="391.9" r="2.95" fill="#E69F00" fill-opacity="0.8" stroke="#CC8A00" stroke-opacity="0.9" stroke-width="0.9"/><circle cx="343.9" cy="410.5" r="2.95" fill="#E69F00" fill-opacity="0.8" stroke="#CC8A00" stroke-opacity="0.9" stroke-width="0.9"/><circle cx="348.3" cy="431.2" r="2.95" fill="#E69F00" fill-opacity="0.8" stroke="#CC8A00" stroke-opacity="0.9" stroke-width="0.9"/><circle cx="342" cy="365" r="2.95" fill="#E69F00" fill-opacity="0.8" stroke="#CC8A00" stroke-opacity="0.9" stroke-width="0.9"/><circle cx="346" cy="364" r="2.95" fill="#E69F00" fill-opacity="0.8" stroke="#CC8A00" stroke-opacity="0.9" stroke-width="0.9"/><circle cx="341" cy="371" r="2.95" fill="#E69F00" fill-opacity="0.8" stroke="#CC8A00" stroke-opacity="0.9" stroke-width="0.9"/><circle cx="345" cy="378" r="2.95" fill="#E69F00" fill-opacity="0.8" stroke="#CC8A00" stroke-opacity="0.9" stroke-width="0.9"/><circle cx="336" cy="370" r="2.95" fill="#E69F00" fill-opacity="0.8" stroke="#CC8A00" stroke-opacity="0.9" stroke-width="0.9"/><circle cx="385.7" cy="320.6" r="2.95" fill="#E69F00" fill-opacity="0.8" stroke="#CC8A00" stroke-opacity="0.9" stroke-width="0.9"/><circle cx="383.3" cy="323" r="2.95" fill="#E69F00" fill-opacity="0.8" stroke="#CC8A00" stroke-opacity="0.9" stroke-width="0.9"/><circle cx="392" cy="338.4" r="2.95" fill="#E69F00" fill-opacity="0.8" stroke="#CC8A00" stroke-opacity="0.9" stroke-width="0.9"/><circle cx="399.2" cy="349" r="2.95" fill="#E69F00" fill-opacity="0.8" stroke="#CC8A00" stroke-opacity="0.9" stroke-width="0.9"/><circle cx="383.8" cy="352.9" r="2.95" fill="#E69F00" fill-opacity="0.8" stroke="#CC8A00" stroke-opacity="0.9" stroke-width="0.9"/><circle cx="388.6" cy="354.3" r="2.95" fill="#E69F00" fill-opacity="0.8" stroke="#CC8A00" stroke-opacity="0.9" stroke-width="0.9"/><circle cx="382.3" cy="357.2" r="2.95" fill="#E69F00" fill-opacity="0.8" stroke="#CC8A00" stroke-opacity="0.9" stroke-width="0.9"/><circle cx="391" cy="357.2" r="2.95" fill="#E69F00" fill-opacity="0.8" stroke="#CC8A00" stroke-opacity="0.9" stroke-width="0.9"/><circle cx="396.3" cy="358.7" r="2.95" fill="#E69F00" fill-opacity="0.8" stroke="#CC8A00" stroke-opacity="0.9" stroke-width="0.9"/><circle cx="384.3" cy="362" r="2.95" fill="#E69F00" fill-opacity="0.8" stroke="#CC8A00" stroke-opacity="0.9" stroke-width="0.9"/><circle cx="387.6" cy="364" r="2.95" fill="#E69F00" fill-opacity="0.8" stroke="#CC8A00" stroke-opacity="0.9" stroke-width="0.9"/><circle cx="389.6" cy="365.9" r="2.95" fill="#E69F00" fill-opacity="0.8" stroke="#CC8A00" stroke-opacity="0.9" stroke-width="0.9"/><circle cx="385.2" cy="371.7" r="2.95" fill="#E69F00" fill-opacity="0.8" stroke="#CC8A00" stroke-opacity="0.9" stroke-width="0.9"/><circle cx="392.5" cy="371.7" r="2.95" fill="#E69F00" fill-opacity="0.8" stroke="#CC8A00" stroke-opacity="0.9" stroke-width="0.9"/><circle cx="391.5" cy="375.5" r="2.95" fill="#E69F00" fill-opacity="0.8" stroke="#CC8A00" stroke-opacity="0.9" stroke-width="0.9"/><circle cx="387.2" cy="388.1" r="2.95" fill="#E69F00" fill-opacity="0.8" stroke="#CC8A00" stroke-opacity="0.9" stroke-width="0.9"/><circle cx="385.7" cy="391.4" r="2.95" fill="#E69F00" fill-opacity="0.8" stroke="#CC8A00" stroke-opacity="0.9" stroke-width="0.9"/><circle cx="381.4" cy="394.3" r="2.95" fill="#E69F00" fill-opacity="0.8" stroke="#CC8A00" stroke-opacity="0.9" stroke-width="0.9"/><circle cx="397.8" cy="397.2" r="2.95" fill="#E69F00" fill-opacity="0.8" stroke="#CC8A00" stroke-opacity="0.9" stroke-width="0.9"/><circle cx="392.5" cy="405.9" r="2.95" fill="#E69F00" fill-opacity="0.8" stroke="#CC8A00" stroke-opacity="0.9" stroke-width="0.9"/><circle cx="393" cy="411.7" r="2.95" fill="#E69F00" fill-opacity="0.8" stroke="#CC8A00" stroke-opacity="0.9" stroke-width="0.9"/><circle cx="397.8" cy="425.2" r="2.95" fill="#E69F00" fill-opacity="0.8" stroke="#CC8A00" stroke-opacity="0.9" stroke-width="0.9"/><circle cx="382.3" cy="445" r="2.95" fill="#E69F00" fill-opacity="0.8" stroke="#CC8A00" stroke-opacity="0.9" stroke-width="0.9"/><circle cx="386" cy="356" r="2.95" fill="#E69F00" fill-opacity="0.8" stroke="#CC8A00" stroke-opacity="0.9" stroke-width="0.9"/><circle cx="390" cy="361" r="2.95" fill="#E69F00" fill-opacity="0.8" stroke="#CC8A00" stroke-opacity="0.9" stroke-width="0.9"/><circle cx="394" cy="373" r="2.95" fill="#E69F00" fill-opacity="0.8" stroke="#CC8A00" stroke-opacity="0.9" stroke-width="0.9"/><circle cx="431.8" cy="327.5" r="2.95" fill="#56B4E9" fill-opacity="0.68" stroke="#4596CC" stroke-opacity="0.9" stroke-width="0.9"/><circle cx="438.6" cy="325.6" r="2.95" fill="#56B4E9" fill-opacity="0.68" stroke="#4596CC" stroke-opacity="0.9" stroke-width="0.9"/><circle cx="434.2" cy="331.4" r="2.95" fill="#56B4E9" fill-opacity="0.68" stroke="#4596CC" stroke-opacity="0.9" stroke-width="0.9"/><circle cx="439" cy="329.5" r="2.95" fill="#56B4E9" fill-opacity="0.68" stroke="#4596CC" stroke-opacity="0.9" stroke-width="0.9"/><circle cx="443.9" cy="331.4" r="2.95" fill="#56B4E9" fill-opacity="0.68" stroke="#4596CC" stroke-opacity="0.9" stroke-width="0.9"/><circle cx="442.9" cy="334.3" r="2.95" fill="#56B4E9" fill-opacity="0.68" stroke="#4596CC" stroke-opacity="0.9" stroke-width="0.9"/><circle cx="447.7" cy="338.1" r="2.95" fill="#56B4E9" fill-opacity="0.68" stroke="#4596CC" stroke-opacity="0.9" stroke-width="0.9"/><circle cx="439" cy="340.5" r="2.95" fill="#56B4E9" fill-opacity="0.68" stroke="#4596CC" stroke-opacity="0.9" stroke-width="0.9"/><circle cx="428.9" cy="346.8" r="2.95" fill="#56B4E9" fill-opacity="0.68" stroke="#4596CC" stroke-opacity="0.9" stroke-width="0.9"/><circle cx="431.8" cy="349.7" r="2.95" fill="#56B4E9" fill-opacity="0.68" stroke="#4596CC" stroke-opacity="0.9" stroke-width="0.9"/><circle cx="439.5" cy="351.6" r="2.95" fill="#56B4E9" fill-opacity="0.68" stroke="#4596CC" stroke-opacity="0.9" stroke-width="0.9"/><circle cx="445.8" cy="351.1" r="2.95" fill="#56B4E9" fill-opacity="0.68" stroke="#4596CC" stroke-opacity="0.9" stroke-width="0.9"/><circle cx="436.6" cy="355.5" r="2.95" fill="#56B4E9" fill-opacity="0.68" stroke="#4596CC" stroke-opacity="0.9" stroke-width="0.9"/><circle cx="437.1" cy="360.3" r="2.95" fill="#56B4E9" fill-opacity="0.68" stroke="#4596CC" stroke-opacity="0.9" stroke-width="0.9"/><circle cx="446.8" cy="363.2" r="2.95" fill="#56B4E9" fill-opacity="0.68" stroke="#4596CC" stroke-opacity="0.9" stroke-width="0.9"/><circle cx="443.9" cy="363" r="2.95" fill="#56B4E9" fill-opacity="0.68" stroke="#4596CC" stroke-opacity="0.9" stroke-width="0.9"/><circle cx="448.7" cy="364.9" r="2.95" fill="#56B4E9" fill-opacity="0.68" stroke="#4596CC" stroke-opacity="0.9" stroke-width="0.9"/><circle cx="438.6" cy="365.9" r="2.95" fill="#56B4E9" fill-opacity="0.68" stroke="#4596CC" stroke-opacity="0.9" stroke-width="0.9"/><circle cx="429.9" cy="370.2" r="2.95" fill="#56B4E9" fill-opacity="0.68" stroke="#4596CC" stroke-opacity="0.9" stroke-width="0.9"/><circle cx="432.8" cy="371.7" r="2.95" fill="#56B4E9" fill-opacity="0.68" stroke="#4596CC" stroke-opacity="0.9" stroke-width="0.9"/><circle cx="441.9" cy="373.6" r="2.95" fill="#56B4E9" fill-opacity="0.68" stroke="#4596CC" stroke-opacity="0.9" stroke-width="0.9"/><circle cx="447.2" cy="373.6" r="2.95" fill="#56B4E9" fill-opacity="0.68" stroke="#4596CC" stroke-opacity="0.9" stroke-width="0.9"/><circle cx="448.2" cy="380.8" r="2.95" fill="#56B4E9" fill-opacity="0.68" stroke="#4596CC" stroke-opacity="0.9" stroke-width="0.9"/><circle cx="432.3" cy="397" r="2.95" fill="#56B4E9" fill-opacity="0.68" stroke="#4596CC" stroke-opacity="0.9" stroke-width="0.9"/><circle cx="429.9" cy="400.4" r="2.95" fill="#56B4E9" fill-opacity="0.68" stroke="#4596CC" stroke-opacity="0.9" stroke-width="0.9"/><circle cx="441" cy="356" r="2.95" fill="#56B4E9" fill-opacity="0.68" stroke="#4596CC" stroke-opacity="0.9" stroke-width="0.9"/><circle cx="436" cy="348" r="2.95" fill="#56B4E9" fill-opacity="0.68" stroke="#4596CC" stroke-opacity="0.9" stroke-width="0.9"/><circle cx="483.2" cy="323.2" r="2.95" fill="#56B4E9" fill-opacity="0.68" stroke="#4596CC" stroke-opacity="0.9" stroke-width="0.9"/><circle cx="478.9" cy="329.9" r="2.95" fill="#56B4E9" fill-opacity="0.68" stroke="#4596CC" stroke-opacity="0.9" stroke-width="0.9"/><circle cx="490" cy="340.5" r="2.95" fill="#56B4E9" fill-opacity="0.68" stroke="#4596CC" stroke-opacity="0.9" stroke-width="0.9"/><circle cx="491.4" cy="341.5" r="2.95" fill="#56B4E9" fill-opacity="0.68" stroke="#4596CC" stroke-opacity="0.9" stroke-width="0.9"/><circle cx="479.4" cy="342.5" r="2.95" fill="#56B4E9" fill-opacity="0.68" stroke="#4596CC" stroke-opacity="0.9" stroke-width="0.9"/><circle cx="479.4" cy="355.5" r="2.95" fill="#56B4E9" fill-opacity="0.68" stroke="#4596CC" stroke-opacity="0.9" stroke-width="0.9"/><circle cx="497.2" cy="356.9" r="2.95" fill="#56B4E9" fill-opacity="0.68" stroke="#4596CC" stroke-opacity="0.9" stroke-width="0.9"/><circle cx="493.3" cy="358.8" r="2.95" fill="#56B4E9" fill-opacity="0.68" stroke="#4596CC" stroke-opacity="0.9" stroke-width="0.9"/><circle cx="489.5" cy="376.2" r="2.95" fill="#56B4E9" fill-opacity="0.68" stroke="#4596CC" stroke-opacity="0.9" stroke-width="0.9"/><circle cx="485.2" cy="380.5" r="2.95" fill="#56B4E9" fill-opacity="0.68" stroke="#4596CC" stroke-opacity="0.9" stroke-width="0.9"/><circle cx="491.4" cy="398.8" r="2.95" fill="#56B4E9" fill-opacity="0.68" stroke="#4596CC" stroke-opacity="0.9" stroke-width="0.9"/><circle cx="495.3" cy="402.7" r="2.95" fill="#56B4E9" fill-opacity="0.68" stroke="#4596CC" stroke-opacity="0.9" stroke-width="0.9"/><circle cx="498.6" cy="403.7" r="2.95" fill="#56B4E9" fill-opacity="0.68" stroke="#4596CC" stroke-opacity="0.9" stroke-width="0.9"/><circle cx="479" cy="407" r="2.95" fill="#56B4E9" fill-opacity="0.68" stroke="#4596CC" stroke-opacity="0.9" stroke-width="0.9"/><circle cx="495.3" cy="416.7" r="2.95" fill="#56B4E9" fill-opacity="0.68" stroke="#4596CC" stroke-opacity="0.9" stroke-width="0.9"/><circle cx="483.7" cy="422.9" r="2.95" fill="#56B4E9" fill-opacity="0.68" stroke="#4596CC" stroke-opacity="0.9" stroke-width="0.9"/><circle cx="491.9" cy="422.9" r="2.95" fill="#56B4E9" fill-opacity="0.68" stroke="#4596CC" stroke-opacity="0.9" stroke-width="0.9"/><circle cx="486.6" cy="428.2" r="2.95" fill="#56B4E9" fill-opacity="0.68" stroke="#4596CC" stroke-opacity="0.9" stroke-width="0.9"/><circle cx="494.8" cy="428.7" r="2.95" fill="#56B4E9" fill-opacity="0.68" stroke="#4596CC" stroke-opacity="0.9" stroke-width="0.9"/><circle cx="497.7" cy="436.9" r="2.95" fill="#56B4E9" fill-opacity="0.68" stroke="#4596CC" stroke-opacity="0.9" stroke-width="0.9"/><circle cx="485.2" cy="439.3" r="2.95" fill="#56B4E9" fill-opacity="0.68" stroke="#4596CC" stroke-opacity="0.9" stroke-width="0.9"/><circle cx="493.8" cy="443.7" r="2.95" fill="#56B4E9" fill-opacity="0.68" stroke="#4596CC" stroke-opacity="0.9" stroke-width="0.9"/><circle cx="484.7" cy="442.8" r="2.95" fill="#56B4E9" fill-opacity="0.68" stroke="#4596CC" stroke-opacity="0.9" stroke-width="0.9"/><circle cx="481.8" cy="445.7" r="2.95" fill="#56B4E9" fill-opacity="0.68" stroke="#4596CC" stroke-opacity="0.9" stroke-width="0.9"/><circle cx="486.1" cy="447.2" r="2.95" fill="#56B4E9" fill-opacity="0.68" stroke="#4596CC" stroke-opacity="0.9" stroke-width="0.9"/><circle cx="481.8" cy="450" r="2.95" fill="#56B4E9" fill-opacity="0.68" stroke="#4596CC" stroke-opacity="0.9" stroke-width="0.9"/><circle cx="485.2" cy="452.5" r="2.95" fill="#56B4E9" fill-opacity="0.68" stroke="#4596CC" stroke-opacity="0.9" stroke-width="0.9"/><circle cx="493.8" cy="454.4" r="2.95" fill="#56B4E9" fill-opacity="0.68" stroke="#4596CC" stroke-opacity="0.9" stroke-width="0.9"/><circle cx="483.7" cy="453.9" r="2.95" fill="#56B4E9" fill-opacity="0.68" stroke="#4596CC" stroke-opacity="0.9" stroke-width="0.9"/><circle cx="496" cy="405" r="2.95" fill="#56B4E9" fill-opacity="0.68" stroke="#4596CC" stroke-opacity="0.9" stroke-width="0.9"/>
<path d="M312.4 283.8 V467.9 H517.7" fill="none" stroke="#111" stroke-width="1.4"/>
<line x1="309.4" y1="291.4" x2="312.4" y2="291.4" stroke="#222" stroke-width="1"/>
<text x="306.9" y="294.09" font-size="8.8" text-anchor="end" fill="#222" stroke="#222" stroke-width="0.2">17.5</text>
<line x1="309.4" y1="326.85" x2="312.4" y2="326.85" stroke="#222" stroke-width="1"/>
<text x="306.9" y="329.55" font-size="8.8" text-anchor="end" fill="#222" stroke="#222" stroke-width="0.2">15.0</text>
<line x1="309.4" y1="362.3" x2="312.4" y2="362.3" stroke="#222" stroke-width="1"/>
<text x="306.9" y="365.0" font-size="8.8" text-anchor="end" fill="#222" stroke="#222" stroke-width="0.2">12.5</text>
<line x1="309.4" y1="397.75" x2="312.4" y2="397.75" stroke="#222" stroke-width="1"/>
<text x="306.9" y="400.45" font-size="8.8" text-anchor="end" fill="#222" stroke="#222" stroke-width="0.2">10.0</text>
<line x1="309.4" y1="433.2" x2="312.4" y2="433.2" stroke="#222" stroke-width="1"/>
<text x="306.9" y="435.9" font-size="8.8" text-anchor="end" fill="#222" stroke="#222" stroke-width="0.2">7.5</text>
<line x1="341.4" y1="467.9" x2="341.4" y2="470.9" stroke="#222" stroke-width="1"/>
<text x="341.4" y="481.1" font-size="9.1" text-anchor="middle" fill="#222222" stroke="#222222" stroke-width="0.3">PRE</text>
<text x="341.4" y="462.4" font-size="8.6" text-anchor="middle" fill="#222222" stroke="#222222" stroke-width="0.25"><tspan font-style="italic">N</tspan> = 32</text>
<line x1="390.5" y1="467.9" x2="390.5" y2="470.9" stroke="#222" stroke-width="1"/>
<text x="390.5" y="481.1" font-size="9.1" text-anchor="middle" fill="#222222" stroke="#222222" stroke-width="0.3">D11</text>
<text x="390.5" y="462.4" font-size="8.6" text-anchor="middle" fill="#222222" stroke="#222222" stroke-width="0.25"><tspan font-style="italic">N</tspan> = 26</text>
<line x1="439.6" y1="467.9" x2="439.6" y2="470.9" stroke="#222" stroke-width="1"/>
<text x="439.6" y="481.1" font-size="9.1" text-anchor="middle" fill="#222222" stroke="#222222" stroke-width="0.3">PRE</text>
<text x="439.6" y="462.4" font-size="8.6" text-anchor="middle" fill="#222222" stroke="#222222" stroke-width="0.25"><tspan font-style="italic">N</tspan> = 27</text>
<line x1="488.7" y1="467.9" x2="488.7" y2="470.9" stroke="#222" stroke-width="1"/>
<text x="488.7" y="481.1" font-size="9.1" text-anchor="middle" fill="#222222" stroke="#222222" stroke-width="0.3">D11</text>
<text x="488.7" y="462.4" font-size="8.6" text-anchor="middle" fill="#222222" stroke="#222222" stroke-width="0.25"><tspan font-style="italic">N</tspan> = 30</text>
<path d="M343.5 487.5 V491.1 H392.75 V487.5" fill="none" stroke="#6a6a6a" stroke-width="1.1"/>
<text x="366.7" y="500.0" font-size="9.1" text-anchor="middle" fill="#222222" stroke="#222222" stroke-width="0.3">PD</text>
<path d="M440.6 487.5 V491.1 H490.25 V487.5" fill="none" stroke="#6a6a6a" stroke-width="1.1"/>
<text x="466.6" y="500.0" font-size="9.1" text-anchor="middle" fill="#222222" stroke="#222222" stroke-width="0.3">CR</text>
<text x="417.0" y="273.4" font-size="13.6" text-anchor="middle" fill="#1a1a1a">CD19</text>
<text x="269.5" y="263.5" font-size="17" font-weight="bold" fill="#111">D</text>
<text transform="translate(275.8 373.3) rotate(-90)" x="0" y="0" font-size="11.5" text-anchor="middle" fill="#222" stroke="#222" stroke-width="0.15">Log<tspan font-size="7.5" dy="2.5">2</tspan><tspan dy="-2.5"> (batch corr. STAR counts)</tspan></text>
<path d="M341.8 320.2 V316.7 H390.6 V320.2" fill="none" stroke="#555" stroke-width="1.0"/>
<text x="366.1" y="312.4" font-size="11.3" text-anchor="middle" fill="#1a1a1a" stroke="#1a1a1a" stroke-width="0.05">0.43</text>
<path d="M390.6 303.3 V299.8 H488.7 V303.3" fill="none" stroke="#555" stroke-width="1.0"/>
<text x="438.0" y="294.2" font-size="11.3" text-anchor="middle" fill="#1a1a1a" stroke="#1a1a1a" stroke-width="0.05">0.0089</text>
<path d="M439.4 320.2 V316.7 H488.7 V320.2" fill="none" stroke="#555" stroke-width="1.0"/>
<text x="444.2" y="312.3" font-size="11.3" text-anchor="start" fill="#1a1a1a" stroke="#1a1a1a" stroke-width="0.05">9.1×10<tspan font-size="8.7" dy="-2.8">−5</tspan></text>
<text x="172.6" y="513.9" font-size="12.5" fill="#222" stroke="#222" stroke-width="0.2">Month-3 response and biopsy time point</text>
</svg></body></html>
